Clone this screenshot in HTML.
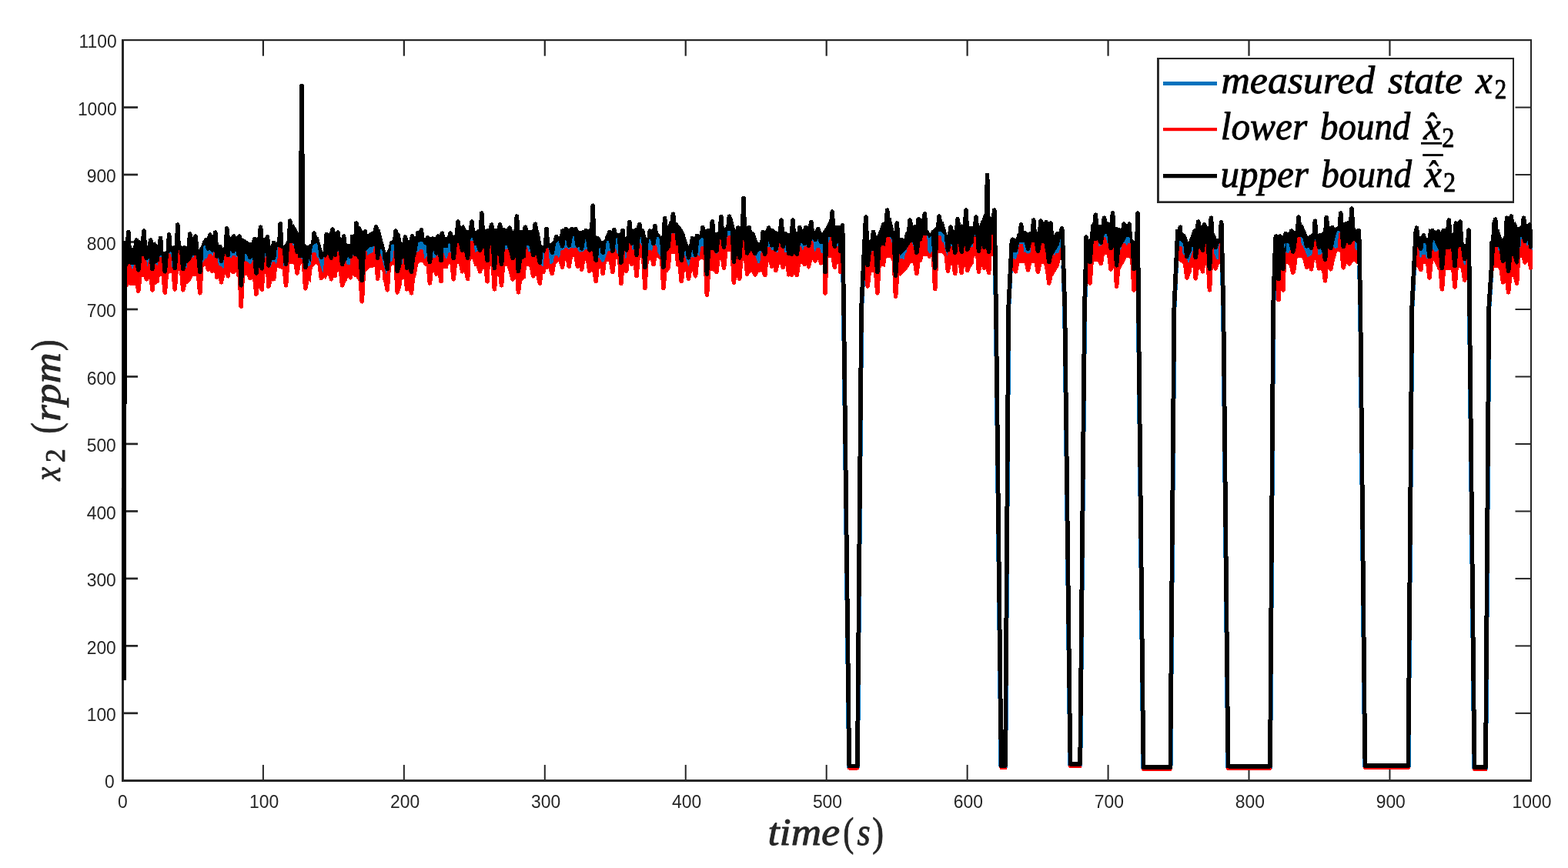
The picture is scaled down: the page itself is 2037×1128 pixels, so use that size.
<!DOCTYPE html>
<html lang="en"><head><meta charset="utf-8"><title>x2 interval observer plot</title>
<style>html,body{margin:0;padding:0;background:#fff;}body{width:2037px;height:1128px;overflow:hidden;}svg{display:block;}.tk{font-family:"Liberation Sans",sans-serif;font-size:22.9px;fill:#262626;}.lx{font-family:"Liberation Serif",serif;font-style:italic;font-size:50px;stroke-width:0.9px;stroke-linejoin:round;}.rm{font-family:"Liberation Serif",serif;font-style:normal;}</style></head><body>
<svg width="2037" height="1128" viewBox="0 0 2037 1128">
<rect x="0" y="0" width="2037" height="1128" fill="#fff"/>
<g fill="#262626">
<rect x="158" y="51" width="3" height="965"/>
<rect x="158" y="1013" width="1832" height="3"/>
<rect x="158" y="51" width="1832" height="2.2"/>
<rect x="1988" y="51" width="2" height="965"/>
<rect x="340.89" y="993.95" width="2" height="20.50"/>
<rect x="340.79" y="52.20" width="2.2" height="20.50"/>
<rect x="523.84" y="993.95" width="2" height="20.50"/>
<rect x="523.74" y="52.20" width="2.2" height="20.50"/>
<rect x="706.78" y="993.95" width="2" height="20.50"/>
<rect x="706.68" y="52.20" width="2.2" height="20.50"/>
<rect x="889.73" y="993.95" width="2" height="20.50"/>
<rect x="889.63" y="52.20" width="2.2" height="20.50"/>
<rect x="1072.68" y="993.95" width="2" height="20.50"/>
<rect x="1072.58" y="52.20" width="2.2" height="20.50"/>
<rect x="1255.62" y="993.95" width="2" height="20.50"/>
<rect x="1255.52" y="52.20" width="2.2" height="20.50"/>
<rect x="1438.57" y="993.95" width="2" height="20.50"/>
<rect x="1438.47" y="52.20" width="2.2" height="20.50"/>
<rect x="1621.51" y="993.95" width="2" height="20.50"/>
<rect x="1621.41" y="52.20" width="2.2" height="20.50"/>
<rect x="1804.46" y="993.95" width="2" height="20.50"/>
<rect x="1804.36" y="52.20" width="2.2" height="20.50"/>
<rect x="159.55" y="925.47" width="19.50" height="2.7"/>
<rect x="1968.50" y="925.87" width="20.50" height="2"/>
<rect x="159.55" y="838.00" width="19.50" height="2.7"/>
<rect x="1968.50" y="838.40" width="20.50" height="2"/>
<rect x="159.55" y="750.52" width="19.50" height="2.7"/>
<rect x="1968.50" y="750.92" width="20.50" height="2"/>
<rect x="159.55" y="663.04" width="19.50" height="2.7"/>
<rect x="1968.50" y="663.44" width="20.50" height="2"/>
<rect x="159.55" y="575.56" width="19.50" height="2.7"/>
<rect x="1968.50" y="575.96" width="20.50" height="2"/>
<rect x="159.55" y="488.09" width="19.50" height="2.7"/>
<rect x="1968.50" y="488.49" width="20.50" height="2"/>
<rect x="159.55" y="400.61" width="19.50" height="2.7"/>
<rect x="1968.50" y="401.01" width="20.50" height="2"/>
<rect x="159.55" y="313.13" width="19.50" height="2.7"/>
<rect x="1968.50" y="313.53" width="20.50" height="2"/>
<rect x="159.55" y="225.65" width="19.50" height="2.7"/>
<rect x="1968.50" y="226.05" width="20.50" height="2"/>
<rect x="159.55" y="138.18" width="19.50" height="2.7"/>
<rect x="1968.50" y="138.58" width="20.50" height="2"/>
</g>
<defs><clipPath id="axclip"><rect x="158.1" y="51.2" width="1833.9" height="964.7"/></clipPath></defs>
<g clip-path="url(#axclip)" stroke-linejoin="round" stroke-linecap="butt" fill="none" shape-rendering="crispEdges">
<path fill="#0072BD" stroke="none" fill-rule="evenodd" d="M1945.5 302.6 1945.1 302.5 1944.8 298.0 1944.5 296.6 1943.7 295.6 1942.6 295.2 1941.4 295.6 1940.6 296.6 1940.3 298.0 1939.8 310.9 1935.2 317.5 1935.2 361.4 1937.9 361.4 1941.4 345.4 1946.4 345.4 1954.0 361.4 1957.1 361.4 1957.3 365.6 1957.6 367.0 1958.4 368.1 1959.5 368.4 1960.6 368.1 1961.4 367.0 1961.7 365.6 1962.4 357.4 1967.7 357.4 1968.3 354.9 1968.4 354.9 1969.4 356.1 1970.5 356.5 1971.6 356.1 1972.4 355.1 1972.7 353.7 1973.7 333.1 1974.0 332.1 1979.0 332.1 1983.3 337.4 1987.0 337.4 1991.1 346.7 1991.2 346.8 1991.2 306.2 1991.1 306.2 1983.8 294.2 1981.6 295.0 1980.5 293.7 1979.4 293.3 1978.3 293.7 1977.5 294.7 1977.1 296.5 1971.8 298.2 1968.5 290.9 1965.7 294.5 1965.5 294.5 1965.1 292.6 1964.3 291.6 1963.2 291.2 1962.1 291.6 1961.2 292.6 1960.9 294.0 1960.8 297.0 1959.9 297.0 1959.4 294.7 1958.6 293.7 1957.5 293.3 1956.3 293.7 1955.5 294.7 1955.2 296.1 1954.7 308.9 1951.3 313.4 1951.2 313.4 1947.2 300.2ZM1837.2 323.2 1837.5 323.2 1837.5 356.1 1838.7 344.1 1841.6 344.1 1847.4 340.1 1851.5 340.1 1854.1 339.2 1854.8 346.6 1855.1 348.0 1855.9 349.0 1857.0 349.4 1858.2 349.0 1859.0 348.0 1859.3 346.6 1860.0 337.1 1862.8 336.1 1868.1 348.1 1870.3 348.1 1871.2 361.6 1871.5 363.0 1872.3 364.1 1873.4 364.4 1874.5 364.1 1875.3 363.0 1875.6 361.6 1876.5 348.1 1882.5 348.1 1887.0 346.9 1887.8 358.6 1888.1 360.0 1888.9 361.0 1890.0 361.4 1891.1 361.0 1892.0 360.0 1892.3 358.6 1893.1 345.4 1897.2 345.4 1900.3 349.2 1900.7 351.1 1901.5 352.1 1902.6 352.5 1902.9 352.4 1906.0 356.1 1908.1 356.1 1908.1 332.5 1910.6 332.5 1910.2 312.1 1909.9 310.7 1909.1 309.7 1908.0 309.3 1906.9 309.7 1906.0 310.7 1905.7 312.1 1905.3 319.5 1902.0 319.5 1899.7 311.4 1899.4 301.0 1899.1 299.6 1898.2 298.6 1897.1 298.2 1896.2 298.6 1894.0 290.9 1887.4 306.2 1884.9 304.4 1884.6 299.1 1884.3 297.7 1883.4 296.6 1882.3 296.3 1881.2 296.6 1880.4 297.7 1880.1 299.1 1879.9 300.9 1878.1 299.6 1873.4 300.2 1871.8 304.2 1866.1 302.9 1856.4 300.2 1854.5 312.2 1844.8 310.2 1842.8 310.2 1842.7 309.0 1842.4 307.6 1841.5 306.6 1840.4 306.2 1839.3 306.6 1838.5 307.6 1838.2 309.0 1838.1 310.2 1837.5 310.2 1837.5 317.0 1837.2 320.2ZM1655.3 320.1 1654.5 320.4 1654.5 323.4 1657.0 323.4 1657.0 366.7 1658.4 368.2 1658.7 375.5 1659.0 376.9 1659.8 377.9 1660.9 378.3 1662.1 377.9 1662.9 376.9 1663.2 375.5 1663.2 373.9 1663.5 373.8 1664.3 374.7 1665.6 364.9 1667.0 365.4 1668.1 365.0 1668.9 364.0 1669.2 362.6 1669.9 340.1 1673.1 340.1 1682.9 352.1 1685.7 332.1 1690.7 332.1 1700.2 345.4 1702.7 338.1 1703.6 338.4 1704.7 338.0 1705.5 337.0 1706.0 334.1 1711.1 333.6 1711.5 336.0 1712.3 337.1 1713.0 337.3 1717.5 352.1 1719.1 350.3 1719.2 350.4 1719.5 352.0 1720.4 353.0 1721.5 353.4 1722.6 353.0 1723.4 352.0 1723.7 350.6 1724.0 345.4 1727.3 345.4 1733.4 337.4 1736.9 324.4 1739.0 324.1 1741.9 324.1 1742.2 325.0 1742.9 333.6 1743.2 335.0 1744.0 336.0 1745.1 336.4 1746.0 336.1 1747.4 340.1 1751.5 340.1 1755.9 337.4 1759.8 337.4 1760.2 337.4 1762.0 340.1 1765.5 340.1 1765.5 315.7 1768.0 315.7 1768.0 312.7 1767.6 312.4 1767.3 311.0 1766.5 309.9 1765.5 309.6 1765.5 300.9 1760.7 300.9 1759.8 290.2 1758.6 290.2 1758.3 284.0 1758.0 282.6 1757.2 281.6 1756.0 281.2 1754.9 281.6 1754.1 282.6 1753.8 284.0 1753.4 290.2 1750.7 290.2 1745.4 292.2 1744.1 293.1 1743.9 290.0 1743.6 288.6 1742.8 287.6 1741.7 287.2 1740.6 287.6 1739.7 288.6 1739.4 290.0 1739.1 296.2 1734.8 298.9 1727.5 296.9 1725.7 298.2 1725.4 295.3 1725.1 293.9 1724.3 292.9 1723.2 292.5 1722.1 292.9 1721.3 293.9 1721.0 295.3 1720.6 302.4 1715.9 306.2 1711.1 306.7 1710.7 300.1 1710.4 298.7 1709.6 297.7 1708.4 297.3 1707.3 297.7 1706.5 298.7 1706.2 300.1 1705.8 307.2 1702.9 307.5 1698.9 310.2 1692.2 294.2 1689.4 296.7 1689.3 296.7 1689.1 295.1 1688.8 293.7 1688.0 292.6 1686.9 292.3 1685.8 292.6 1685.0 293.7 1684.7 295.1 1684.3 301.1 1681.6 303.5 1674.3 304.2 1667.0 308.9 1660.3 307.5 1657.0 307.5 1657.0 317.5 1656.5 317.6 1655.6 318.7ZM1536.6 306.2 1526.6 300.9 1526.6 334.8 1529.3 334.8 1535.3 338.8 1539.4 343.8 1539.7 346.6 1540.0 348.0 1540.8 349.0 1541.9 349.4 1543.5 348.9 1547.2 353.4 1548.4 345.4 1551.0 345.4 1551.0 347.6 1551.3 349.0 1552.2 350.0 1553.3 350.4 1554.4 350.0 1555.2 349.0 1555.5 347.6 1555.8 345.4 1560.4 345.4 1562.6 341.4 1563.6 341.1 1564.4 340.0 1564.7 338.8 1567.7 338.8 1568.1 339.0 1569.2 362.6 1569.5 364.0 1570.3 365.0 1571.4 365.4 1572.6 365.0 1573.4 364.0 1573.7 362.6 1574.5 342.8 1577.7 342.8 1580.6 340.7 1582.6 339.8 1586.6 339.8 1586.6 325.9 1589.1 325.9 1588.7 302.0 1588.4 300.6 1587.6 299.6 1586.5 299.2 1585.4 299.6 1584.5 300.6 1584.2 302.0 1583.7 312.9 1580.5 312.9 1577.8 306.2 1576.1 304.3 1575.7 296.1 1575.4 294.7 1574.6 293.7 1573.4 293.3 1572.3 293.7 1571.5 294.7 1571.2 296.1 1571.0 298.5 1570.8 298.6 1569.2 296.9 1560.5 295.6 1549.9 300.9 1544.1 317.5 1543.7 317.5 1539.9 306.9ZM1413.0 349.4 1413.5 349.5 1413.8 353.7 1414.1 355.1 1414.9 356.1 1416.0 356.5 1417.1 356.1 1417.9 355.1 1418.2 353.7 1419.1 338.5 1419.7 337.4 1424.7 337.4 1429.9 331.1 1430.2 331.2 1431.3 330.8 1432.1 329.8 1432.5 328.1 1437.3 328.1 1440.7 334.8 1441.1 337.0 1441.9 338.0 1442.4 338.2 1444.8 342.8 1447.9 342.8 1448.3 357.7 1448.6 359.1 1449.5 360.1 1450.6 360.5 1451.7 360.1 1452.5 359.1 1452.8 357.7 1453.7 345.7 1455.5 346.8 1460.8 337.4 1463.6 332.1 1466.9 332.1 1468.6 335.1 1469.8 338.5 1470.8 362.6 1471.1 364.0 1471.9 365.0 1473.0 365.4 1474.1 365.0 1475.0 364.0 1475.3 362.6 1476.2 345.1 1478.2 345.1 1478.2 331.2 1480.7 331.2 1480.3 290.0 1480.0 288.6 1479.2 287.6 1478.1 287.2 1477.0 287.6 1476.1 288.6 1475.8 290.0 1475.1 318.2 1472.1 318.2 1469.8 311.5 1469.4 304.1 1469.1 302.7 1468.3 301.7 1467.2 301.3 1466.3 301.6 1463.7 294.2 1456.1 300.9 1454.1 298.9 1450.2 298.2 1448.1 296.8 1447.7 290.0 1447.4 288.6 1446.6 287.6 1445.5 287.2 1444.4 287.6 1443.6 288.6 1443.3 290.0 1443.0 293.3 1439.5 290.9 1428.2 295.6 1425.7 295.3 1425.5 292.1 1425.2 290.7 1424.4 289.7 1423.3 289.3 1422.2 289.7 1421.3 290.7 1421.0 292.1 1420.8 294.6 1417.6 294.2 1415.3 314.8 1410.8 314.8 1410.8 318.2 1409.8 318.6 1409.0 319.6 1408.7 321.0 1408.3 324.8 1408.3 327.8 1410.8 327.8 1410.8 350.7 1412.2 350.7ZM1313.8 348.1 1324.0 338.8 1334.1 338.8 1334.4 339.1 1335.5 339.4 1336.6 339.1 1336.9 338.8 1344.9 338.8 1346.1 339.0 1346.5 340.7 1347.3 341.7 1348.4 342.1 1349.5 341.7 1350.3 340.7 1350.5 339.8 1352.6 340.1 1356.2 340.1 1357.7 348.1 1360.2 350.1 1360.5 353.7 1360.8 355.1 1361.6 356.1 1362.8 356.5 1363.9 356.1 1364.7 355.1 1365.0 353.9 1367.7 356.1 1375.7 342.7 1378.3 332.1 1379.7 332.1 1380.3 345.4 1380.3 317.2 1382.6 317.2 1382.6 314.2 1381.3 308.6 1380.3 307.3 1380.3 304.2 1371.7 304.2 1369.4 308.1 1368.9 308.0 1367.7 293.0 1361.7 290.9 1355.7 291.6 1351.9 297.4 1350.9 297.7 1350.0 298.7 1349.7 300.6 1347.7 303.5 1345.2 303.7 1344.9 299.1 1344.6 297.7 1343.8 296.6 1342.7 296.3 1341.6 296.6 1340.7 297.7 1340.4 299.1 1340.1 304.0 1337.8 304.2 1335.1 305.5 1331.8 302.9 1328.6 303.9 1327.6 302.6 1326.5 302.2 1325.3 302.6 1324.5 303.6 1324.2 305.4 1321.8 306.2 1319.8 312.9 1313.8 312.9 1313.8 322.4 1313.6 322.7 1313.3 324.1 1312.3 324.4 1312.3 327.4 1313.8 327.4ZM1123.0 358.7 1124.7 356.8 1124.8 356.9 1125.3 359.1 1126.1 360.1 1127.2 360.5 1128.4 360.1 1129.2 359.1 1129.5 357.7 1130.0 351.2 1130.4 350.7 1135.4 350.7 1136.5 349.9 1136.6 349.9 1137.6 366.6 1137.9 368.0 1138.7 369.0 1139.8 369.4 1141.0 369.0 1141.8 368.0 1142.1 366.6 1143.1 344.7 1145.6 342.8 1149.6 344.1 1151.7 332.1 1156.7 332.1 1160.2 338.6 1161.3 371.2 1161.6 372.6 1162.4 373.7 1163.5 374.0 1164.6 373.7 1165.5 372.6 1165.8 371.2 1166.8 352.2 1167.4 352.1 1169.5 356.1 1177.5 348.1 1183.6 338.8 1188.3 338.8 1188.6 341.3 1188.9 342.7 1189.7 343.7 1190.8 344.1 1191.9 343.7 1192.7 342.7 1193.0 341.3 1193.4 338.1 1197.4 337.4 1199.6 330.1 1204.6 330.1 1206.8 333.5 1207.0 333.3 1208.1 333.1 1209.0 331.9 1211.2 330.3 1212.5 361.3 1212.8 362.7 1213.6 363.7 1214.7 364.1 1215.8 363.7 1216.7 362.7 1217.0 361.3 1218.2 325.5 1223.2 325.5 1228.7 332.5 1229.1 338.0 1229.4 339.4 1230.2 340.4 1231.4 340.8 1232.5 340.4 1233.3 339.4 1233.4 338.8 1238.1 338.8 1238.4 341.3 1238.7 342.7 1239.5 343.7 1240.6 344.1 1241.7 343.7 1242.6 342.7 1242.9 341.3 1242.9 338.8 1245.8 338.8 1246.8 338.5 1247.3 341.8 1248.2 342.8 1249.3 343.2 1250.4 342.8 1251.2 341.8 1251.5 340.4 1251.7 337.4 1254.7 337.4 1255.0 338.7 1255.8 339.7 1256.9 340.1 1257.5 339.9 1261.3 344.1 1264.6 340.1 1265.8 329.5 1268.7 329.5 1269.3 339.3 1269.6 340.7 1270.4 341.7 1271.5 342.1 1272.6 341.7 1273.4 340.7 1273.8 338.8 1277.2 338.8 1279.8 345.4 1282.1 345.4 1283.1 342.7 1284.6 343.2 1285.7 342.8 1286.5 341.8 1286.8 340.4 1287.3 330.1 1287.5 329.5 1289.6 329.5 1290.5 332.1 1292.0 332.1 1292.0 297.9 1294.5 297.9 1294.5 294.9 1294.1 286.0 1293.8 284.6 1293.0 283.6 1291.9 283.2 1290.8 283.6 1289.7 284.9 1287.2 284.9 1279.2 278.9 1272.6 296.2 1270.3 296.4 1270.2 295.1 1269.9 293.7 1269.1 292.6 1267.9 292.3 1266.8 292.6 1266.0 293.7 1265.7 295.1 1265.6 296.6 1260.6 296.9 1257.6 296.2 1257.1 286.0 1256.8 284.6 1256.0 283.6 1254.9 283.2 1253.8 283.6 1253.0 284.6 1252.7 286.0 1252.2 295.0 1249.0 294.2 1246.1 296.6 1245.1 295.3 1244.0 294.9 1242.9 295.3 1242.1 296.3 1241.8 297.7 1241.6 300.2 1235.2 305.3 1234.9 305.2 1233.8 305.5 1233.0 306.6 1232.9 307.1 1230.7 308.9 1225.4 290.2 1222.1 292.9 1221.2 291.7 1220.0 291.3 1218.9 291.7 1218.1 292.7 1217.8 294.1 1217.6 296.6 1210.7 302.2 1208.1 306.2 1204.1 299.1 1203.7 290.8 1203.4 289.4 1202.5 288.4 1201.4 288.0 1200.3 288.4 1198.9 290.1 1196.8 286.3 1189.5 294.9 1186.1 295.6 1184.0 297.6 1183.3 296.6 1182.1 296.3 1181.0 296.6 1180.2 297.7 1179.9 299.1 1179.7 301.5 1176.2 304.9 1174.3 313.5 1173.9 313.6 1172.8 311.5 1169.5 311.5 1167.9 310.5 1167.5 303.0 1167.2 301.6 1166.4 300.6 1165.3 300.2 1164.2 300.6 1163.3 301.6 1163.0 303.0 1163.0 306.3 1162.1 306.4 1157.5 286.3 1155.0 287.7 1154.9 286.0 1154.6 284.6 1153.7 283.6 1152.6 283.2 1151.5 283.6 1150.7 284.6 1150.4 286.0 1150.1 290.4 1145.6 292.9 1140.2 308.2 1134.8 311.6 1134.5 311.5 1133.4 311.9 1132.5 313.0 1129.6 314.8 1127.8 314.8 1127.2 295.1 1126.9 293.7 1126.1 292.6 1125.0 292.3 1123.8 292.6 1123.0 293.7 1122.7 295.1 1121.8 324.8 1121.8 327.8 1123.0 327.8ZM165.3 370.7 167.3 367.4 170.0 368.3 176.0 368.0 178.0 365.5 178.6 366.3 179.7 366.7 180.8 366.3 181.7 365.3 182.0 363.9 182.3 360.2 184.6 357.4 188.6 357.4 191.9 360.1 195.5 360.1 195.6 362.6 195.9 364.0 196.8 365.0 197.9 365.4 199.4 364.9 201.2 367.4 206.6 364.0 207.6 356.1 210.3 356.1 211.1 355.4 212.0 365.9 212.3 367.3 213.1 368.3 214.3 368.7 215.4 368.3 216.2 367.3 216.5 365.9 217.3 354.5 224.1 349.8 224.9 361.6 225.2 363.0 226.0 364.1 227.2 364.4 228.3 364.1 229.1 363.0 229.4 361.6 230.2 349.2 234.7 349.3 235.6 362.6 235.9 364.0 236.7 365.0 237.8 365.4 238.9 365.0 239.7 364.0 240.2 361.5 240.7 361.5 243.1 366.7 247.1 362.7 250.6 356.1 255.6 356.1 256.2 355.1 256.7 355.2 257.5 366.6 257.8 368.0 258.6 369.0 259.8 369.4 260.9 369.0 261.7 368.0 262.0 366.6 263.0 344.8 264.2 342.8 268.6 342.8 273.1 349.4 279.8 349.4 282.9 357.4 285.8 357.4 291.2 354.7 294.8 354.7 297.5 350.7 300.4 350.7 304.5 348.1 308.1 348.1 309.8 349.3 311.0 383.9 311.3 385.3 312.1 386.3 313.2 386.7 314.3 386.3 315.2 385.3 315.5 383.9 316.6 354.7 322.1 354.7 328.2 360.1 330.1 361.5 330.6 367.9 330.9 369.3 331.8 370.3 332.9 370.7 334.0 370.3 334.8 369.3 335.1 367.9 335.3 365.4 338.7 365.4 338.9 364.3 340.3 364.7 341.4 364.3 342.2 363.3 342.5 361.9 343.4 342.8 345.3 342.8 346.1 343.5 346.7 357.9 347.0 359.3 347.8 360.3 348.9 360.7 350.0 360.3 350.8 359.3 351.4 356.6 352.0 356.5 354.2 362.7 358.2 361.4 360.0 345.5 362.2 345.4 363.3 345.9 368.6 348.4 369.2 356.6 369.5 358.0 370.4 359.0 371.5 359.4 372.6 359.0 373.4 358.0 373.7 356.6 374.6 341.1 377.0 340.1 383.8 340.1 384.2 342.0 385.0 343.1 386.1 343.4 387.2 343.1 388.0 342.0 388.4 340.1 391.3 340.1 393.3 341.2 393.6 341.7 394.5 360.6 394.8 362.0 395.6 363.0 396.7 363.4 397.9 363.0 398.7 362.0 399.5 357.2 400.1 357.1 403.4 365.4 405.3 348.2 406.2 343.8 409.3 340.9 411.2 340.1 415.1 346.8 415.4 348.7 416.2 349.7 416.7 349.9 417.3 351.1 419.4 358.4 421.3 357.7 422.7 360.0 428.7 350.1 429.4 351.0 430.5 351.4 431.3 351.0 431.9 350.0 432.1 348.6 432.1 345.4 433.3 345.4 434.3 346.8 434.8 347.0 436.8 350.1 440.5 350.1 442.0 352.3 442.4 356.6 442.7 358.0 443.5 359.0 444.6 359.4 445.8 359.0 446.2 358.5 449.9 364.0 451.9 357.4 456.8 353.4 460.4 353.4 465.2 361.4 466.7 359.7 467.0 359.8 468.1 377.6 468.4 379.0 469.2 380.0 470.3 380.4 471.4 380.0 472.2 379.0 472.5 377.6 473.6 352.0 475.9 349.4 480.5 345.4 487.2 344.1 488.2 344.8 488.3 348.3 488.6 349.7 489.4 350.8 490.5 351.1 491.7 350.8 492.5 349.7 492.8 348.1 496.3 348.1 497.8 364.0 499.3 360.7 500.1 359.5 500.5 359.6 501.2 364.0 502.0 365.0 503.2 365.4 504.3 365.0 505.1 364.0 505.4 362.6 506.3 345.6 506.5 344.9 507.3 343.2 509.8 341.7 511.3 340.1 512.8 340.1 513.9 365.6 514.2 367.0 515.1 368.1 516.2 368.4 517.3 368.1 518.1 367.0 518.8 364.0 519.5 364.0 521.1 370.7 522.7 360.1 526.3 360.1 526.4 361.6 526.7 363.0 527.7 364.3 529.8 373.4 532.4 373.4 534.2 369.5 535.6 369.0 536.4 368.0 536.7 366.6 537.0 363.5 540.4 356.1 543.3 339.9 545.2 338.4 549.3 338.4 550.4 341.4 555.4 344.7 556.1 353.7 556.4 355.1 557.2 356.1 558.3 356.5 559.5 356.1 560.3 355.1 560.6 353.7 561.1 348.1 565.2 348.1 569.0 354.7 570.8 352.6 571.8 354.0 573.0 354.3 574.1 354.0 574.9 352.9 575.2 351.5 575.3 347.3 576.3 346.1 581.6 346.1 582.8 340.1 586.3 340.1 587.0 348.6 587.3 350.0 588.1 351.0 589.2 351.4 590.3 351.0 591.1 350.0 591.4 348.6 592.1 340.1 598.1 340.1 602.9 350.7 604.4 346.7 605.0 346.7 605.6 349.7 606.4 350.8 607.5 351.1 608.7 350.8 609.5 349.7 609.8 348.3 610.3 333.5 613.7 333.5 616.2 342.8 625.7 345.4 630.3 345.4 630.8 351.5 631.1 352.9 631.9 354.0 633.1 354.3 634.2 354.0 635.0 352.9 635.3 351.5 635.7 340.1 638.9 340.1 639.1 340.6 640.2 361.6 640.5 363.0 641.3 364.1 642.4 364.4 643.5 364.1 644.3 363.0 644.6 361.6 645.3 350.7 648.7 350.7 649.2 356.6 649.5 358.0 650.3 359.0 651.5 359.4 652.6 359.0 653.4 358.0 653.7 356.6 654.5 342.8 658.6 342.8 661.4 352.1 665.4 351.2 666.0 351.4 667.2 351.0 667.4 350.7 670.6 350.7 671.2 365.6 671.5 367.0 672.3 368.1 673.4 368.4 674.5 368.1 675.4 367.0 675.7 365.6 676.4 358.7 676.7 358.6 678.7 361.4 682.7 358.7 683.9 342.8 686.8 342.8 694.2 356.1 697.8 356.1 699.2 355.4 700.2 356.6 701.3 357.0 702.4 356.6 703.2 355.6 703.6 353.5 705.3 352.7 708.0 353.4 709.3 347.3 716.6 345.1 718.0 343.9 718.4 343.7 719.0 343.0 725.3 337.5 727.1 337.4 729.8 335.5 730.6 335.7 731.7 335.3 732.5 334.3 732.7 333.5 737.4 333.5 738.1 334.4 739.3 334.8 740.4 334.4 741.2 333.4 741.6 331.0 742.1 330.8 747.1 330.8 752.5 345.4 756.0 338.7 756.8 338.4 757.6 337.4 758.1 334.8 763.0 334.8 763.3 335.7 763.5 338.0 763.8 339.4 764.7 340.4 767.3 349.4 771.6 349.4 772.1 352.7 773.0 353.7 774.1 354.1 775.2 353.7 776.0 352.7 776.3 351.3 777.0 342.8 781.3 342.8 783.8 346.4 784.8 343.1 785.1 342.7 785.4 341.0 787.1 338.1 787.9 337.4 793.3 337.4 793.8 340.7 794.6 341.7 795.8 342.1 796.9 341.7 797.7 340.7 798.0 339.3 798.5 333.9 799.2 333.5 803.5 333.5 804.5 354.2 804.8 355.6 805.7 356.6 806.8 357.0 807.9 356.6 808.7 355.6 809.0 354.2 809.4 348.1 812.5 348.1 814.2 340.6 814.9 340.4 815.7 339.4 816.0 338.0 816.2 334.4 817.3 333.5 819.5 333.5 823.0 342.8 824.1 341.1 824.6 341.2 824.8 344.4 825.1 345.8 825.9 346.8 827.0 347.2 828.2 346.8 829.0 345.8 829.3 344.4 830.1 332.1 834.5 332.1 835.7 360.3 836.0 361.7 836.8 362.7 837.9 363.1 839.0 362.7 839.9 361.7 840.2 360.3 841.1 340.1 843.3 335.7 845.0 334.8 847.2 334.8 850.8 332.1 855.2 332.1 858.6 337.3 859.6 360.3 859.9 361.7 860.7 362.7 861.9 363.1 863.0 362.7 863.8 361.7 864.1 360.3 865.0 347.7 865.4 347.5 867.6 350.7 870.9 345.4 872.5 326.8 875.3 326.8 876.5 326.8 878.2 342.8 882.5 344.5 883.0 351.3 883.3 352.7 884.2 353.7 885.3 354.1 886.4 353.7 887.2 352.7 887.5 351.3 888.0 346.8 892.1 346.8 892.5 349.3 893.4 350.4 894.5 350.7 895.6 350.4 896.4 349.3 896.7 347.9 897.3 348.1 901.7 348.1 902.3 346.7 903.5 347.2 904.6 346.8 905.5 345.8 905.8 344.4 906.3 337.6 907.3 336.1 908.8 335.8 911.3 333.6 912.6 333.5 915.0 336.9 916.2 369.2 916.5 370.6 917.3 371.7 918.4 372.0 919.5 371.7 920.3 370.6 920.6 369.2 921.7 347.4 922.2 347.3 923.6 349.4 928.6 349.4 930.9 342.0 931.9 341.7 932.7 340.7 933.0 339.3 933.5 334.0 933.7 333.5 938.2 333.5 938.5 335.7 939.4 336.7 940.5 337.1 941.6 336.7 942.4 335.7 942.7 334.3 943.3 326.4 944.9 324.1 950.0 324.1 951.1 353.3 951.4 354.7 952.2 355.7 953.3 356.1 954.5 355.7 955.3 354.7 955.6 353.3 955.8 350.7 959.2 350.7 959.3 350.3 960.7 350.7 961.9 350.4 962.7 349.3 963.0 347.9 963.9 333.5 967.8 333.5 968.4 342.0 968.7 343.4 969.6 344.4 970.7 344.8 971.7 344.4 973.5 350.7 988.2 350.7 991.5 344.4 992.6 345.7 993.7 346.1 994.8 345.7 995.6 344.7 995.9 343.3 996.6 334.8 1000.8 334.8 1004.9 345.4 1011.0 340.1 1015.4 340.1 1017.0 336.2 1018.3 335.7 1019.1 334.7 1019.4 333.3 1019.5 332.1 1021.7 332.1 1022.2 342.6 1022.5 344.0 1023.3 345.1 1024.7 345.5 1026.5 356.0 1028.0 345.8 1028.6 346.1 1029.7 345.7 1030.5 344.7 1030.8 343.3 1030.9 333.5 1032.6 333.5 1033.0 343.3 1033.3 344.7 1034.1 345.7 1035.2 346.1 1036.3 345.7 1037.2 344.7 1037.5 343.3 1037.8 340.1 1049.3 340.1 1052.9 334.8 1057.3 334.8 1060.6 332.1 1064.3 332.1 1069.4 342.7 1069.8 342.7 1069.8 366.6 1070.1 368.0 1070.9 369.0 1072.1 369.4 1073.2 369.0 1074.0 368.0 1074.3 366.6 1075.3 332.1 1078.8 332.1 1081.8 331.1 1082.4 334.7 1083.2 335.7 1084.4 336.1 1085.5 335.7 1086.3 334.7 1086.6 333.3 1086.8 329.5 1089.3 329.5 1089.5 339.3 1089.8 340.7 1090.6 341.7 1091.8 342.1 1092.9 341.7 1093.7 340.7 1094.0 339.3 1095.6 318.2 1095.6 315.2 1094.5 315.2 1094.5 309.3 1097.0 309.3 1097.0 306.3 1096.6 306.0 1096.3 304.6 1095.5 303.5 1094.5 303.2 1094.5 296.2 1089.7 296.2 1085.0 295.6 1083.8 294.9 1083.4 288.1 1083.1 286.7 1082.3 285.7 1081.2 285.3 1080.1 285.7 1079.2 286.7 1078.9 288.1 1078.7 292.1 1076.4 290.9 1072.4 298.9 1068.4 304.9 1058.9 302.9 1056.1 301.6 1055.7 299.9 1054.9 298.9 1053.8 298.5 1052.7 298.9 1051.9 299.8 1049.8 298.9 1042.5 300.9 1035.8 304.2 1032.4 304.8 1032.1 299.1 1031.8 297.7 1031.0 296.6 1029.9 296.3 1028.7 296.6 1027.9 297.7 1027.6 299.1 1027.2 305.6 1023.9 306.2 1021.2 303.5 1017.5 303.5 1017.2 299.1 1016.9 297.7 1016.1 296.6 1015.0 296.3 1013.8 296.6 1013.0 297.7 1012.7 299.1 1012.4 303.5 1008.6 303.5 1004.6 300.2 994.6 302.2 989.7 312.5 989.3 312.9 989.2 313.5 987.3 317.5 984.6 317.5 980.0 304.9 969.0 300.2 968.3 270.5 968.0 269.1 967.1 268.0 966.0 267.7 964.9 268.0 964.1 269.1 963.8 270.5 963.1 297.6 961.4 296.9 955.4 302.8 951.4 286.3 947.4 291.3 946.3 291.7 945.4 292.7 945.1 294.3 942.1 298.2 939.4 300.0 939.0 294.4 938.7 293.0 937.9 292.0 936.7 291.6 935.6 292.0 934.8 293.0 934.5 294.4 934.1 303.4 930.8 305.5 927.9 304.0 927.7 300.4 927.4 299.0 926.6 298.0 925.4 297.6 924.3 298.0 923.5 299.0 923.1 301.5 919.5 299.6 912.5 305.7 911.7 305.9 910.8 307.1 908.8 308.9 902.2 310.2 894.3 322.0 894.1 322.0 888.9 305.5 884.2 297.6 878.9 291.6 876.7 291.1 876.4 289.7 875.6 288.6 874.5 288.3 873.4 288.6 872.3 290.0 870.2 289.6 867.3 296.9 866.4 298.3 866.0 298.2 865.8 296.4 865.5 295.0 864.7 294.0 863.6 293.6 862.5 294.0 861.6 295.0 861.3 296.4 860.9 307.1 858.9 310.2 855.0 304.9 847.4 300.9 840.2 314.9 839.8 314.9 837.0 300.9 834.3 299.6 825.7 299.3 823.0 300.2 820.3 303.1 820.1 303.0 819.9 301.4 819.6 300.0 818.8 299.0 817.7 298.6 816.6 299.0 815.8 300.0 815.5 301.4 815.1 308.6 812.4 311.5 804.4 305.5 787.1 308.2 783.9 319.2 783.6 319.2 778.5 310.5 775.1 310.2 773.2 308.1 772.5 280.2 772.2 278.8 771.3 277.7 770.2 277.4 769.1 277.7 768.3 278.8 768.0 280.2 767.3 301.4 767.0 301.5 765.8 300.2 753.2 303.3 738.6 299.6 727.3 308.9 716.6 318.2 712.7 319.4 712.2 310.4 711.9 309.0 711.1 307.9 710.0 307.6 708.9 307.9 708.0 309.0 707.7 310.4 707.2 321.1 703.7 322.1 700.0 302.2 696.9 302.2 696.5 301.7 695.3 301.3 694.2 301.7 693.8 302.2 676.1 302.2 674.1 302.4 673.6 294.0 673.3 292.6 672.5 291.6 671.4 291.2 670.3 291.6 669.5 292.6 669.2 294.0 668.7 303.0 666.5 303.3 654.1 298.9 642.8 300.2 633.5 300.2 630.8 300.9 628.5 300.9 628.0 290.0 627.7 288.6 626.9 287.6 625.8 287.2 624.7 287.6 623.8 288.6 623.5 290.0 623.0 300.9 620.9 300.9 618.2 303.5 615.3 303.1 615.1 301.0 614.8 299.6 614.0 298.6 612.9 298.2 611.8 298.6 610.9 299.6 610.6 301.0 610.5 302.3 605.6 301.5 602.2 294.2 597.2 300.1 596.0 298.6 594.9 298.2 593.8 298.6 593.0 299.6 592.7 301.0 592.4 305.6 589.6 308.9 580.3 311.5 571.3 308.2 565.0 310.9 558.3 310.9 553.0 311.5 549.5 311.5 549.3 310.6 548.4 309.5 547.3 309.2 546.2 309.5 545.4 310.6 545.2 311.5 539.3 311.5 530.8 314.8 522.0 319.5 519.4 306.9 517.8 306.2 514.1 310.2 512.9 310.6 512.1 311.6 511.9 312.6 509.8 314.8 506.5 316.8 502.8 333.5 502.1 333.5 497.2 315.5 493.2 300.2 482.5 304.2 477.2 307.5 471.2 303.3 467.9 296.9 464.6 300.8 462.9 300.2 461.8 300.6 461.0 301.6 460.7 303.0 460.6 305.4 459.9 306.2 454.6 319.5 451.3 320.2 448.5 318.6 447.8 317.6 446.6 317.3 446.3 317.4 443.0 315.5 436.0 306.9 426.7 306.2 424.2 314.8 422.8 315.2 422.0 316.3 421.7 317.7 421.4 324.3 419.6 330.5 419.1 330.5 413.4 310.2 409.6 313.8 408.1 313.3 406.9 313.7 406.1 314.7 405.8 316.1 405.7 317.4 401.4 321.5 398.1 322.4 381.4 294.2 379.3 299.3 377.9 297.6 376.8 297.2 375.7 297.6 374.9 298.6 374.6 300.0 374.1 312.0 369.9 322.2 367.0 320.8 366.4 304.0 366.1 302.6 365.3 301.5 364.2 301.2 363.0 301.5 362.2 302.6 361.9 304.0 361.3 318.0 359.5 317.1 351.5 326.8 350.0 323.5 349.8 321.0 349.5 319.6 348.7 318.6 347.4 318.1 344.2 311.5 341.0 311.5 340.7 308.1 340.4 306.7 339.6 305.7 338.5 305.3 337.4 305.7 336.6 306.7 336.3 308.1 336.0 311.5 333.6 311.5 324.9 318.8 321.6 316.2 316.9 313.5 307.0 309.5 299.0 310.9 297.7 312.9 297.2 312.8 297.0 310.0 296.7 308.6 295.9 307.5 294.7 307.2 293.6 307.5 292.8 308.6 292.5 310.0 292.0 321.8 289.7 325.5 287.7 321.5 284.4 320.8 282.2 318.4 282.0 315.0 281.7 313.6 280.8 312.6 279.7 312.2 278.6 312.6 277.8 313.6 276.0 311.5 266.4 312.2 263.1 316.8 259.6 328.6 259.3 328.6 256.6 323.2 256.4 320.1 256.1 318.7 255.3 317.6 254.2 317.3 253.8 317.4 251.1 311.8 248.4 315.3 247.8 314.6 246.7 314.2 245.6 314.6 244.8 315.6 244.5 317.0 244.2 320.9 242.5 323.2 235.8 322.4 233.6 322.4 233.0 305.0 232.7 303.6 231.9 302.6 230.8 302.2 229.6 302.6 228.8 303.6 228.5 305.0 227.9 322.2 225.2 322.2 222.2 324.2 221.8 317.9 221.5 316.5 220.7 315.5 219.6 315.1 218.5 315.5 217.6 316.5 217.3 317.9 216.9 327.9 213.2 330.4 211.1 328.1 210.8 322.3 210.5 320.9 209.7 319.9 208.5 319.5 207.4 319.9 206.6 320.9 206.3 322.5 206.1 322.6 201.2 317.1 191.5 323.5 189.7 321.9 189.2 313.0 188.9 311.6 188.1 310.6 187.0 310.2 185.9 310.6 185.1 311.6 184.8 313.0 184.5 317.1 184.3 317.1 181.3 314.4 172.0 325.1 169.4 325.1 168.9 314.3 168.6 312.9 167.8 311.9 166.7 311.5 165.5 311.9 164.7 312.9 164.4 314.3 163.5 335.1 163.5 338.1 165.3 338.1Z"/>
<polyline stroke="#0072BD" stroke-width="5.6" points="1095.0,345.0 1095.8,400.0 1102.9,996.4 1114.2,996.4 1119.4,400.0 1122.1,345.0"/>
<polyline stroke="#0072BD" stroke-width="5.6" points="1292.7,345.0 1293.6,400.0 1300.3,996.0 1306.4,996.0 1310.5,400.0 1313.2,345.0"/>
<polyline stroke="#0072BD" stroke-width="5.6" points="1381.2,345.0 1383.0,400.0 1390.1,993.8 1403.5,993.8 1409.3,400.0 1410.9,345.0"/>
<polyline stroke="#0072BD" stroke-width="5.6" points="1478.3,345.0 1478.7,400.0 1485.1,997.9 1520.7,997.9 1525.7,400.0 1528.2,345.0"/>
<polyline stroke="#0072BD" stroke-width="5.6" points="1587.7,345.0 1589.0,400.0 1595.1,996.7 1650.3,996.7 1654.4,400.0 1656.2,345.0"/>
<polyline stroke="#0072BD" stroke-width="5.6" points="1766.0,345.0 1767.0,400.0 1773.0,995.9 1829.8,995.9 1834.6,400.0 1837.4,345.0"/>
<polyline stroke="#0072BD" stroke-width="5.6" points="1908.3,345.0 1908.8,400.0 1915.1,998.2 1930.3,998.2 1934.6,400.0 1938.1,345.0"/>
<path fill="#FF0000" stroke="none" fill-rule="evenodd" d="M1946.9 325.0 1946.5 324.9 1945.4 312.3 1945.0 310.9 1944.0 309.9 1942.6 309.5 1941.2 309.9 1940.1 310.9 1939.8 312.3 1938.6 337.0 1935.2 341.8 1935.2 364.4 1937.9 364.4 1941.4 348.4 1946.4 348.4 1947.7 351.2 1949.7 366.9 1950.1 368.3 1951.1 369.3 1952.5 369.7 1953.9 369.3 1955.8 367.5 1956.0 367.6 1956.7 379.9 1957.0 381.3 1958.1 382.4 1959.5 382.7 1960.9 382.4 1961.9 381.3 1962.3 379.9 1964.3 360.4 1965.7 360.4 1968.1 369.4 1969.1 370.4 1970.5 370.8 1971.9 370.4 1972.9 369.4 1973.3 368.0 1975.3 335.1 1976.5 335.1 1978.7 342.4 1979.7 343.4 1981.1 343.8 1982.5 343.4 1983.6 342.4 1983.9 341.0 1985.1 340.4 1985.7 348.0 1986.0 349.4 1987.1 350.4 1988.5 350.8 1989.8 350.4 1990.5 349.7 1991.2 349.8 1991.2 330.5 1991.1 330.5 1989.9 319.3 1989.5 317.9 1988.5 316.9 1987.1 316.5 1985.7 316.9 1984.7 317.9 1984.4 319.0 1984.1 319.1 1983.8 318.5 1983.4 318.7 1982.2 310.4 1981.8 309.0 1980.8 308.0 1979.4 307.6 1978.0 308.0 1977.0 309.0 1976.6 310.4 1975.4 321.3 1971.8 322.5 1968.5 315.2 1967.4 316.6 1967.1 316.5 1966.0 308.3 1965.6 306.9 1964.6 305.9 1963.2 305.5 1961.8 305.9 1960.8 306.9 1960.1 309.3 1958.9 308.0 1957.5 307.6 1956.1 308.0 1955.0 309.0 1954.7 310.4 1953.5 334.9 1951.3 337.7 1951.2 337.7 1947.2 324.5ZM1837.5 359.1 1838.7 347.1 1840.9 347.1 1842.9 350.7 1843.3 352.1 1844.3 353.1 1845.7 353.5 1847.1 353.1 1848.2 352.1 1848.5 350.7 1849.5 343.1 1851.5 343.1 1852.2 342.8 1854.2 360.9 1854.6 362.3 1855.6 363.3 1857.0 363.7 1858.4 363.3 1859.5 362.3 1859.8 360.9 1861.8 339.4 1862.8 339.1 1868.1 351.1 1868.6 351.1 1870.6 375.9 1871.0 377.3 1872.0 378.4 1873.4 378.7 1874.8 378.4 1875.8 377.3 1876.2 375.9 1878.2 351.1 1882.5 351.1 1885.2 350.3 1887.2 372.9 1887.6 374.3 1888.6 375.3 1890.0 375.7 1891.4 375.3 1892.5 374.3 1892.8 372.9 1894.7 348.4 1897.2 348.4 1897.9 349.2 1899.9 364.0 1900.2 365.4 1901.3 366.4 1902.7 366.8 1904.1 366.4 1905.1 365.4 1905.5 364.0 1906.0 359.1 1908.1 359.1 1908.1 346.8 1910.6 346.8 1910.6 326.4 1910.4 325.0 1909.4 324.0 1908.0 323.6 1906.6 324.0 1905.6 325.0 1905.2 326.4 1904.0 343.8 1902.0 343.8 1901.1 340.5 1899.9 315.3 1899.5 313.9 1898.5 312.9 1897.1 312.5 1895.7 312.9 1894.7 313.9 1894.5 314.6 1894.3 314.6 1893.7 316.0 1892.7 314.9 1891.4 314.5 1890.0 314.9 1888.9 315.9 1888.6 317.3 1887.4 330.5 1886.4 330.4 1885.1 313.4 1884.7 312.0 1883.7 310.9 1882.3 310.6 1880.9 310.9 1879.9 312.0 1879.5 313.4 1878.3 323.8 1873.4 324.5 1872.0 328.1 1871.5 328.1 1871.2 326.8 1870.1 325.8 1868.7 325.4 1867.4 325.8 1866.1 327.2 1863.4 326.5 1863.2 325.5 1862.2 324.5 1860.8 324.1 1859.4 324.5 1858.7 325.2 1856.4 324.5 1854.5 336.5 1853.5 336.3 1852.3 333.3 1851.9 331.9 1850.9 330.9 1849.5 330.5 1848.1 330.9 1847.0 331.9 1846.7 333.3 1845.5 334.6 1844.4 334.4 1843.2 323.3 1842.8 321.9 1841.8 320.9 1840.4 320.5 1839.0 320.9 1838.0 321.9 1837.6 323.3 1836.4 334.5 1836.4 337.5 1837.5 337.5ZM1654.5 334.7 1654.5 337.7 1657.0 337.7 1657.0 369.7 1658.2 389.8 1658.5 391.2 1659.6 392.2 1661.0 392.6 1662.4 392.2 1663.4 391.2 1663.8 389.8 1664.3 378.3 1664.5 378.2 1665.6 379.3 1666.9 379.7 1668.3 379.3 1669.4 378.3 1669.7 376.9 1670.9 343.1 1673.1 343.1 1674.8 345.1 1677.2 355.7 1678.2 356.7 1679.6 357.1 1681.0 356.7 1682.0 355.7 1682.3 354.5 1682.4 354.5 1682.9 355.1 1685.7 335.1 1690.7 335.1 1692.7 337.9 1695.1 348.6 1696.1 349.6 1697.5 350.0 1698.9 349.6 1700.2 348.3 1701.1 351.3 1702.1 352.3 1703.5 352.7 1704.9 352.3 1705.9 351.3 1706.3 349.9 1708.0 337.9 1708.9 337.9 1710.7 348.9 1711.1 350.3 1712.1 351.4 1713.5 351.7 1714.9 351.4 1716.0 350.2 1717.5 355.1 1718.7 364.9 1719.1 366.3 1720.1 367.3 1721.5 367.7 1722.9 367.3 1723.9 366.3 1724.3 364.9 1725.3 350.5 1725.5 350.4 1727.4 352.3 1728.8 352.7 1730.2 352.3 1731.2 351.3 1731.6 349.9 1733.4 340.5 1736.9 327.4 1739.0 327.1 1740.4 327.1 1742.4 347.9 1742.7 349.3 1743.8 350.3 1745.2 350.7 1746.6 350.3 1747.6 349.3 1749.4 343.1 1750.4 343.1 1750.7 344.4 1751.7 345.4 1753.1 345.8 1754.5 345.4 1755.6 344.4 1755.9 343.0 1757.9 340.4 1760.2 340.4 1762.0 343.1 1765.5 343.1 1765.5 330.0 1768.0 330.0 1768.0 326.7 1767.8 325.3 1766.8 324.2 1765.4 323.9 1764.0 324.2 1763.0 325.2 1760.7 325.2 1759.8 314.6 1758.9 298.3 1758.5 296.9 1757.5 295.9 1756.1 295.5 1754.7 295.9 1753.6 296.9 1753.3 298.3 1752.1 314.5 1750.7 314.5 1745.4 316.5 1744.5 304.3 1744.1 302.9 1743.1 301.9 1741.7 301.5 1740.3 301.9 1739.3 302.9 1738.9 304.3 1737.7 321.4 1734.8 323.2 1733.6 322.7 1733.2 321.3 1732.2 320.2 1730.8 319.9 1729.4 320.2 1728.2 321.4 1727.2 321.1 1726.0 309.6 1725.6 308.2 1724.6 307.2 1723.2 306.8 1721.8 307.2 1720.8 308.2 1720.4 309.6 1719.2 327.8 1715.9 330.5 1712.4 330.9 1711.2 314.4 1710.9 313.0 1709.8 312.0 1708.4 311.6 1707.0 312.0 1706.0 313.0 1705.6 314.4 1704.4 331.7 1702.9 331.8 1698.9 334.5 1692.2 318.5 1690.9 319.6 1689.7 309.4 1689.3 308.0 1688.3 306.9 1686.9 306.6 1685.5 306.9 1684.5 308.0 1684.1 309.4 1682.9 326.7 1681.6 327.8 1680.7 327.3 1680.3 325.9 1679.3 324.9 1677.9 324.5 1676.5 324.9 1675.4 325.9 1675.1 327.3 1674.3 328.5 1672.9 329.4 1671.7 328.2 1670.3 327.8 1668.9 328.2 1667.8 329.2 1666.9 333.2 1665.2 332.8 1664.4 331.9 1663.0 331.6 1661.6 331.9 1661.5 332.1 1660.3 331.8 1658.6 331.8 1657.6 331.6 1656.2 331.9 1655.2 333.0 1654.8 334.4ZM1669.0 349.8 1667.9 349.7 1668.7 343.1 1670.3 343.1ZM1529.3 326.6 1526.6 325.2 1526.6 337.8 1529.3 337.8 1535.3 341.8 1537.1 344.0 1539.1 360.9 1539.5 362.3 1540.5 363.3 1541.9 363.7 1543.3 363.3 1544.3 362.3 1544.7 360.9 1546.7 355.8 1547.2 356.4 1548.4 348.4 1549.9 348.4 1550.4 361.9 1550.8 363.3 1551.8 364.3 1553.2 364.7 1554.6 364.3 1555.7 363.3 1556.0 361.9 1557.7 349.6 1558.3 349.5 1559.7 352.9 1560.1 354.3 1561.1 355.4 1562.5 355.7 1563.9 355.4 1565.0 354.3 1565.3 352.9 1565.7 344.6 1566.8 344.6 1568.6 376.9 1569.0 378.3 1570.0 379.3 1571.4 379.7 1572.8 379.3 1573.9 378.3 1574.2 376.9 1575.6 349.5 1576.5 349.4 1576.7 350.3 1577.8 351.4 1579.2 351.7 1580.6 351.4 1581.6 350.3 1584.0 342.8 1586.6 342.8 1586.6 340.2 1589.1 340.2 1589.1 316.3 1588.9 314.9 1587.9 313.9 1586.5 313.5 1585.1 313.9 1584.1 314.9 1583.7 316.3 1582.5 337.2 1580.5 337.2 1577.8 330.5 1577.4 330.1 1576.2 310.4 1575.9 309.0 1574.8 308.0 1573.4 307.6 1572.0 308.0 1571.0 309.0 1570.6 310.4 1569.5 321.2 1568.5 321.1 1567.3 319.3 1567.0 317.9 1565.9 316.9 1564.5 316.5 1563.1 316.9 1562.1 317.9 1561.7 319.3 1560.5 319.9 1559.2 313.9 1558.2 312.9 1556.8 312.5 1555.4 312.9 1554.4 313.9 1554.0 315.3 1552.8 323.7 1549.9 325.2 1544.1 341.8 1543.7 341.8 1539.9 331.2 1536.6 330.5 1536.1 322.4 1535.7 321.0 1534.7 320.0 1533.3 319.6 1531.9 320.0 1530.9 321.0ZM1415.4 338.3 1414.7 338.4 1413.3 333.9 1412.3 332.9 1410.9 332.5 1409.5 332.9 1408.5 333.9 1408.3 335.3 1408.3 342.1 1410.8 342.1 1410.8 353.7 1412.2 353.7 1413.2 368.0 1413.5 369.4 1414.6 370.4 1416.0 370.8 1417.4 370.4 1418.4 369.4 1418.8 368.0 1420.8 340.4 1424.7 340.4 1425.4 339.6 1427.4 342.7 1427.8 344.1 1428.8 345.1 1430.2 345.5 1431.6 345.1 1432.6 344.1 1433.0 342.7 1434.9 331.1 1437.3 331.1 1438.3 333.0 1440.3 349.9 1440.7 351.3 1441.7 352.3 1443.1 352.7 1444.5 352.3 1445.5 351.3 1446.1 349.1 1446.9 349.2 1447.7 372.0 1448.1 373.4 1449.1 374.4 1450.5 374.8 1451.9 374.4 1453.0 373.4 1453.3 372.0 1455.3 350.0 1460.8 340.4 1463.6 335.1 1466.9 335.1 1468.2 337.4 1470.2 376.9 1470.6 378.3 1471.6 379.3 1473.0 379.7 1474.4 379.3 1475.5 378.3 1475.8 376.9 1477.8 348.1 1478.2 348.1 1478.2 345.5 1480.7 345.5 1480.7 304.3 1480.5 302.9 1479.5 301.9 1478.1 301.5 1476.7 301.9 1475.7 302.9 1475.3 304.3 1474.1 340.5 1473.8 340.7 1471.0 337.6 1470.0 318.4 1469.6 317.0 1468.6 316.0 1467.2 315.6 1465.8 316.0 1464.7 317.0 1464.3 318.7 1463.8 318.7 1463.7 318.5 1463.6 318.7 1462.9 318.4 1462.5 317.0 1461.5 316.0 1460.1 315.6 1458.7 316.0 1457.7 317.0 1457.3 318.4 1456.2 325.1 1456.1 325.1 1454.1 323.2 1450.2 322.5 1449.5 322.1 1448.3 304.3 1447.9 302.9 1446.9 301.9 1445.5 301.5 1444.1 301.9 1443.1 302.9 1442.7 304.3 1441.5 316.6 1439.5 315.2 1438.5 315.6 1436.9 309.0 1435.9 308.0 1434.5 307.6 1433.1 308.0 1432.0 309.0 1431.7 310.4 1430.5 318.9 1428.2 319.9 1427.3 319.7 1426.1 306.4 1425.7 305.0 1424.7 304.0 1423.3 303.6 1421.9 304.0 1420.9 305.0 1420.5 306.4 1419.3 318.7 1417.6 318.5ZM1313.8 351.1 1314.6 350.4 1316.6 352.9 1317.0 354.3 1318.0 355.4 1319.4 355.7 1320.8 355.4 1321.8 354.3 1322.2 352.9 1324.2 341.8 1330.7 341.8 1333.1 352.3 1334.1 353.4 1335.5 353.7 1336.9 353.4 1337.9 352.3 1340.3 341.8 1343.6 341.8 1345.6 353.6 1346.0 355.0 1347.0 356.0 1348.4 356.4 1349.8 356.0 1350.8 355.0 1351.2 353.6 1353.2 343.1 1356.2 343.1 1357.7 351.1 1358.0 351.3 1360.0 368.0 1360.3 369.4 1361.4 370.4 1362.8 370.8 1364.2 370.4 1365.2 369.4 1367.5 359.4 1375.7 345.7 1378.3 335.1 1379.7 335.1 1380.3 348.4 1380.3 331.5 1382.8 331.5 1382.8 328.5 1382.2 324.3 1381.8 322.9 1380.8 321.8 1379.4 321.5 1378.0 321.8 1377.0 322.9 1375.4 328.5 1371.7 328.5 1369.4 332.4 1368.9 332.3 1367.7 317.3 1367.3 315.9 1366.4 314.9 1365.0 314.5 1363.6 314.9 1362.9 315.6 1361.5 315.1 1361.3 314.6 1360.4 313.6 1359.0 313.2 1357.6 313.6 1356.6 314.6 1356.2 316.2 1355.9 316.2 1354.8 314.4 1354.4 313.0 1353.4 312.0 1352.0 311.6 1350.6 312.0 1349.6 313.0 1349.2 314.4 1348.0 327.5 1347.7 327.8 1346.7 327.9 1345.5 313.4 1345.1 312.0 1344.1 310.9 1342.7 310.6 1341.3 310.9 1340.3 312.0 1339.9 313.4 1338.7 328.4 1337.8 328.5 1335.1 329.8 1331.8 327.2 1330.5 327.6 1329.3 319.3 1328.9 317.9 1327.9 316.9 1326.5 316.5 1325.1 316.9 1324.0 317.9 1323.7 319.3 1322.5 330.3 1321.8 330.5 1319.8 337.2 1318.2 337.2 1316.9 335.9 1315.5 335.6 1314.1 335.9 1313.1 337.0 1312.7 338.4 1311.5 338.7 1311.5 341.7 1313.8 341.7ZM1123.0 342.1 1123.0 361.7 1124.4 372.0 1124.8 373.4 1125.8 374.4 1127.2 374.8 1128.6 374.4 1129.6 373.4 1130.0 372.0 1132.0 353.7 1135.0 353.7 1137.0 380.9 1137.4 382.3 1138.4 383.3 1139.8 383.7 1141.2 383.3 1142.3 382.3 1142.6 380.9 1144.6 346.5 1145.6 345.8 1149.6 347.1 1151.7 335.1 1156.7 335.1 1158.7 338.9 1160.7 385.5 1161.1 386.9 1162.1 388.0 1163.5 388.3 1164.9 388.0 1165.9 386.9 1166.3 385.5 1168.3 357.8 1168.8 357.7 1169.5 359.1 1177.5 351.1 1183.6 341.8 1186.1 341.8 1188.0 355.6 1188.4 357.0 1189.4 358.0 1190.8 358.4 1192.2 358.0 1193.2 357.0 1193.6 355.6 1195.6 340.7 1197.4 340.4 1199.6 333.1 1204.6 333.1 1206.8 336.5 1207.0 336.3 1208.1 336.1 1209.5 334.1 1209.9 334.3 1211.9 375.6 1212.3 377.0 1213.3 378.0 1214.7 378.4 1216.1 378.0 1217.2 377.0 1217.5 375.6 1219.5 328.5 1223.2 328.5 1226.6 332.8 1228.6 352.3 1228.9 353.7 1230.0 354.7 1231.4 355.1 1232.8 354.7 1233.8 353.7 1234.2 352.3 1235.5 344.5 1236.4 344.5 1237.9 355.6 1238.2 357.0 1239.3 358.0 1240.7 358.4 1242.1 358.0 1243.1 357.0 1243.5 355.6 1243.9 344.2 1244.9 344.1 1246.5 354.7 1246.9 356.1 1247.9 357.1 1249.3 357.5 1250.7 357.1 1251.7 356.1 1252.1 354.7 1252.7 347.0 1253.8 347.0 1254.1 351.6 1254.5 353.0 1255.5 354.0 1256.9 354.4 1258.3 354.0 1259.3 353.0 1259.7 351.6 1261.3 347.1 1264.6 343.1 1265.8 332.5 1267.3 332.5 1268.7 353.6 1269.1 355.0 1270.1 356.0 1271.5 356.4 1272.9 356.0 1273.9 355.0 1274.3 353.6 1274.9 346.8 1275.8 346.8 1276.0 348.6 1276.4 350.0 1277.4 351.0 1278.8 351.4 1279.9 351.0 1280.8 349.7 1281.1 349.8 1281.8 354.7 1282.1 356.1 1283.2 357.1 1284.6 357.5 1286.0 357.1 1287.0 356.1 1287.4 354.7 1288.5 332.5 1289.6 332.5 1290.5 335.1 1292.0 335.1 1292.0 312.2 1294.5 312.2 1294.5 300.3 1294.3 298.9 1293.3 297.9 1291.9 297.5 1290.5 297.9 1289.4 298.9 1289.1 300.3 1287.8 309.7 1279.2 303.2 1275.3 313.5 1274.2 314.6 1272.7 320.2 1271.9 320.2 1270.7 309.4 1270.4 308.0 1269.3 306.9 1267.9 306.6 1266.5 306.9 1265.5 308.0 1265.1 309.4 1263.9 321.0 1260.6 321.2 1258.9 320.8 1257.7 300.3 1257.3 298.9 1256.3 297.9 1254.9 297.5 1253.5 297.9 1252.5 298.9 1252.1 300.3 1250.9 319.0 1249.0 318.5 1248.0 319.4 1246.8 312.0 1246.4 310.6 1245.4 309.6 1244.0 309.2 1242.6 309.6 1241.6 310.6 1241.2 312.0 1240.0 325.7 1238.9 326.6 1237.4 320.9 1236.3 319.8 1234.9 319.5 1233.5 319.8 1232.5 320.9 1232.1 322.3 1231.1 331.8 1230.3 331.9 1225.4 314.5 1224.0 315.6 1222.8 308.4 1222.5 307.0 1221.4 306.0 1220.0 305.6 1218.6 306.0 1217.6 307.0 1217.2 308.4 1216.0 322.2 1210.7 326.5 1208.1 330.5 1205.4 325.8 1204.2 305.1 1203.9 303.7 1202.8 302.7 1201.4 302.3 1200.0 302.7 1199.0 303.7 1198.6 305.1 1197.5 311.1 1197.1 311.2 1196.8 310.6 1195.9 311.5 1195.8 311.5 1195.6 310.6 1194.6 309.6 1193.2 309.2 1191.8 309.6 1190.8 310.6 1190.4 312.0 1189.5 319.2 1186.1 319.9 1184.9 313.4 1184.6 312.0 1183.5 310.9 1182.1 310.6 1180.7 310.9 1179.7 312.0 1179.3 313.4 1178.1 327.3 1176.2 329.2 1174.3 337.8 1173.9 337.9 1172.8 335.8 1169.3 335.8 1168.1 317.3 1167.7 315.9 1166.7 314.9 1165.3 314.5 1163.9 314.9 1162.8 315.9 1162.5 317.3 1162.3 327.3 1161.4 327.4 1157.5 310.6 1156.6 311.1 1155.4 300.3 1155.0 298.9 1154.0 297.9 1152.6 297.5 1151.2 297.9 1150.2 298.9 1149.8 300.3 1148.6 315.5 1145.6 317.2 1140.2 332.5 1138.5 333.6 1137.0 327.2 1135.9 326.2 1134.5 325.8 1133.1 326.2 1132.1 327.2 1131.7 328.6 1130.5 338.6 1129.0 339.5 1127.8 309.4 1127.4 308.0 1126.4 306.9 1125.0 306.6 1123.6 306.9 1122.5 308.0 1122.2 309.4 1121.0 339.1 1121.0 342.1ZM165.3 373.7 167.3 370.4 170.0 371.3 176.0 371.0 176.9 378.2 177.3 379.6 178.3 380.6 179.7 381.0 181.1 380.6 182.1 379.6 182.5 378.2 184.5 360.4 186.6 360.4 187.5 362.9 187.9 364.3 188.9 365.3 190.3 365.7 191.7 365.3 192.8 364.3 193.1 362.9 193.9 363.0 195.1 376.9 195.5 378.3 196.5 379.3 197.9 379.7 199.3 379.3 200.3 378.3 200.7 376.9 201.2 370.4 206.6 367.0 207.6 359.1 209.5 359.1 211.5 380.2 211.8 381.6 212.9 382.6 214.3 383.0 215.7 382.6 216.7 381.6 217.1 380.2 219.1 356.3 222.4 354.0 224.4 375.9 224.7 377.3 225.8 378.4 227.2 378.7 228.6 378.4 229.6 377.3 230.0 375.9 231.8 352.2 233.0 352.3 235.0 376.9 235.4 378.3 236.4 379.3 237.8 379.7 239.2 379.3 240.2 378.3 242.5 369.2 242.9 369.2 243.1 369.7 247.1 365.7 250.6 359.1 255.0 359.1 257.0 380.9 257.3 382.3 258.4 383.3 259.8 383.7 261.2 383.3 262.2 382.3 262.6 380.9 264.6 345.8 266.4 345.8 268.0 351.7 269.0 352.7 270.4 353.1 271.7 352.7 272.6 351.8 273.1 352.5 273.4 353.7 274.4 354.7 275.7 355.1 277.0 354.7 278.2 353.5 278.4 353.6 278.9 360.3 279.3 361.7 280.3 362.7 281.7 363.1 283.0 362.7 284.1 361.5 284.4 361.6 284.6 366.9 285.0 368.3 286.0 369.3 287.4 369.7 288.8 369.3 289.8 368.3 292.3 357.3 292.8 357.2 293.5 358.9 293.9 360.3 294.9 361.3 296.3 361.7 297.7 361.3 298.6 360.3 299.0 358.9 299.0 353.7 300.2 353.7 300.6 355.0 301.6 356.0 303.0 356.4 304.4 356.0 305.4 355.0 305.7 353.8 306.5 353.9 306.8 357.6 307.2 359.0 308.2 360.0 308.8 360.2 310.4 398.2 310.8 399.6 311.8 400.6 313.2 401.0 314.6 400.6 315.6 399.6 316.0 398.2 318.0 357.7 320.1 357.7 322.1 361.6 322.5 363.0 323.5 364.0 324.9 364.4 326.3 364.0 328.0 362.3 328.2 362.4 330.1 382.2 330.5 383.6 331.5 384.6 332.9 385.0 334.3 384.6 335.3 383.6 335.7 382.2 336.3 375.0 337.3 375.0 337.4 376.2 337.8 377.6 338.8 378.6 340.2 379.0 341.6 378.6 342.6 377.6 343.0 376.2 344.3 355.9 345.3 355.9 346.1 372.2 346.4 373.6 347.5 374.6 348.9 375.0 350.3 374.6 351.3 373.6 353.4 365.1 354.0 365.1 354.2 365.7 358.2 364.4 360.0 348.5 362.2 348.4 363.3 348.9 366.7 350.5 368.7 370.9 369.1 372.3 370.1 373.3 371.5 373.7 372.9 373.3 373.9 372.3 374.3 370.9 376.3 343.4 377.0 343.1 381.3 343.1 383.3 354.9 383.7 356.3 384.7 357.4 386.1 357.7 387.5 357.4 388.5 356.3 388.9 354.9 390.8 342.8 391.9 343.5 393.9 374.9 394.3 376.3 395.3 377.3 396.7 377.7 398.1 377.3 399.2 376.3 399.5 374.9 401.4 364.8 401.9 364.7 403.4 368.4 405.3 351.2 406.2 346.8 409.3 343.9 411.2 343.1 412.6 345.4 414.6 361.6 414.9 363.0 416.0 364.0 417.4 364.4 418.8 364.0 419.8 363.0 420.2 361.6 421.7 361.4 422.7 363.0 425.8 358.0 425.9 358.0 427.9 362.9 428.2 364.3 429.3 365.3 430.7 365.7 431.7 365.3 432.4 364.3 432.7 362.9 432.7 360.1 433.0 360.0 434.0 361.1 435.3 361.5 436.7 361.1 437.7 360.1 438.1 358.7 438.6 353.1 439.8 353.1 441.8 370.9 442.2 372.3 443.2 373.3 444.6 373.7 446.0 373.3 447.1 372.3 447.4 370.9 449.4 366.3 449.9 367.0 451.9 360.7 452.4 360.7 452.8 362.3 453.9 363.3 455.3 363.7 456.7 363.3 457.7 362.3 458.1 360.9 458.4 357.9 459.2 357.8 459.5 359.0 460.5 360.0 461.9 360.4 462.7 360.2 465.6 364.9 467.5 391.9 467.9 393.3 468.9 394.3 470.3 394.7 471.7 394.3 472.7 393.3 473.1 391.9 475.1 353.3 475.9 352.4 480.5 348.4 487.2 347.1 487.7 362.6 488.1 364.0 489.1 365.1 490.5 365.4 491.9 365.1 492.9 364.0 493.3 362.6 494.5 351.1 496.3 351.1 497.8 367.0 498.0 366.6 498.5 366.7 500.4 376.9 500.7 378.3 501.8 379.3 503.2 379.7 504.6 379.3 505.6 378.3 506.0 376.9 508.0 345.9 509.8 344.7 511.1 343.3 511.4 343.4 513.4 379.9 513.8 381.3 514.8 382.4 516.2 382.7 517.6 382.4 518.6 381.3 520.7 374.3 521.0 374.3 522.7 363.1 524.7 363.1 525.9 375.9 526.3 377.3 527.3 378.4 528.7 378.7 529.9 378.4 530.9 377.2 531.2 377.2 531.6 380.9 532.0 382.3 533.0 383.3 534.4 383.7 535.8 383.3 536.8 382.3 537.2 380.9 539.2 361.6 540.4 359.1 543.3 342.9 545.2 341.4 549.3 341.4 550.4 344.4 553.6 346.5 555.6 368.0 555.9 369.4 557.0 370.4 558.4 370.8 559.8 370.4 560.8 369.4 561.2 368.0 562.7 353.5 563.5 353.5 564.6 357.7 565.6 358.7 567.0 359.1 568.0 358.7 568.7 357.7 569.0 357.8 570.2 365.8 570.6 367.2 571.6 368.3 573.0 368.6 574.4 368.3 575.4 367.2 575.8 365.8 576.3 349.1 581.6 349.1 582.8 343.1 584.4 343.1 586.4 362.9 586.8 364.3 587.8 365.3 589.2 365.7 590.6 365.3 591.6 364.3 592.0 362.9 594.0 343.1 595.8 343.1 598.2 354.3 599.2 355.4 600.6 355.7 601.8 355.4 602.8 354.1 603.0 354.1 605.1 364.0 606.2 365.1 607.6 365.4 609.0 365.1 610.0 364.0 610.4 362.6 611.6 336.5 613.7 336.5 616.2 345.8 618.7 346.5 621.1 354.3 622.1 355.4 623.5 355.7 624.9 355.4 625.9 354.3 626.3 352.9 627.8 349.3 628.4 349.4 630.3 365.8 630.7 367.2 631.7 368.3 633.1 368.6 634.5 368.3 635.5 367.2 635.9 365.8 636.7 346.0 637.8 346.0 639.6 375.9 640.0 377.3 641.0 378.4 642.4 378.7 643.8 378.4 644.8 377.3 645.2 375.9 646.4 359.3 647.4 359.2 648.7 370.9 649.0 372.3 650.1 373.3 651.5 373.7 652.9 373.3 653.9 372.3 654.3 370.9 656.1 345.8 658.6 345.8 661.4 355.1 663.7 364.3 664.7 365.3 666.1 365.7 667.5 365.3 668.5 364.3 669.0 362.6 669.8 362.7 670.6 379.9 671.0 381.3 672.0 382.4 673.4 382.7 674.8 382.4 675.8 381.3 676.2 379.9 678.1 364.8 682.7 361.7 683.9 345.8 686.8 345.8 687.9 347.7 689.9 358.9 690.3 360.3 691.3 361.3 692.7 361.7 694.1 361.3 695.1 360.3 695.4 359.1 696.5 359.1 698.9 369.9 699.9 370.9 701.3 371.3 702.7 370.9 703.8 369.9 704.1 368.5 705.3 355.7 708.0 356.4 709.3 350.3 712.5 349.4 714.9 357.0 715.9 358.0 717.3 358.4 718.7 358.0 719.7 357.0 720.1 355.6 722.1 343.3 725.7 340.1 728.2 348.6 729.2 349.6 730.6 350.0 732.0 349.6 733.0 348.6 733.4 347.2 734.5 339.3 735.3 339.3 736.4 346.3 736.8 347.7 737.8 348.7 739.2 349.1 740.6 348.7 741.7 347.7 742.0 346.3 744.0 333.8 745.5 333.8 747.5 346.3 747.9 347.7 748.9 348.7 750.3 349.1 751.4 348.7 752.2 347.7 752.5 347.8 752.8 350.3 753.2 351.7 754.2 352.7 755.6 353.1 757.0 352.7 758.0 351.7 758.4 350.3 760.3 338.5 761.1 338.5 763.0 352.3 763.4 353.7 764.4 354.7 765.8 355.1 767.2 354.7 768.3 353.7 768.6 352.5 769.3 352.5 771.3 365.6 771.7 367.0 772.7 368.0 774.1 368.4 775.5 368.0 776.5 367.0 776.9 365.6 778.6 348.9 779.5 348.9 780.3 355.6 780.7 357.0 781.7 358.0 783.1 358.4 784.5 358.0 785.6 357.0 785.9 355.6 787.9 340.4 791.0 340.4 793.0 353.6 793.3 355.0 794.4 356.0 795.8 356.4 797.2 356.0 798.2 355.0 798.6 353.6 800.6 336.5 802.0 336.5 804.0 368.5 804.4 369.9 805.4 370.9 806.8 371.3 808.2 370.9 809.2 369.9 809.6 368.5 810.9 353.4 811.1 353.3 812.4 354.7 813.7 355.1 815.1 354.7 816.1 353.7 816.5 352.3 817.2 342.9 818.0 342.9 818.6 345.0 819.6 346.1 821.0 346.4 822.0 346.1 822.6 345.2 823.0 345.3 824.2 358.7 824.6 360.1 825.6 361.1 827.0 361.5 828.4 361.1 829.4 360.1 829.8 358.7 831.8 335.1 833.1 335.1 835.1 374.6 835.5 376.0 836.5 377.0 837.9 377.4 839.3 377.0 840.4 376.0 840.7 374.6 842.7 339.9 843.3 338.7 845.0 337.8 846.5 345.0 847.6 346.1 849.0 346.4 850.4 346.1 851.4 345.0 851.8 343.6 853.0 335.1 855.2 335.1 857.1 338.0 859.1 374.6 859.4 376.0 860.5 377.0 861.9 377.4 863.3 377.0 864.3 376.0 864.7 374.6 866.6 353.0 867.0 352.9 867.6 353.7 870.9 348.4 872.5 329.8 876.5 329.8 878.2 345.8 880.5 346.7 882.5 365.6 882.9 367.0 883.9 368.0 885.3 368.4 886.7 368.0 887.7 367.0 888.1 365.6 889.7 353.0 890.6 353.0 891.7 362.2 892.0 363.6 893.1 364.7 894.5 365.0 895.9 364.7 896.9 363.6 897.3 362.2 899.0 352.7 899.8 352.8 900.7 358.7 901.1 360.1 902.1 361.1 903.5 361.5 904.9 361.1 905.9 360.1 906.3 358.7 908.3 338.9 908.8 338.8 911.3 336.6 912.6 336.5 913.6 337.8 915.6 383.5 916.0 384.9 917.0 386.0 918.4 386.3 919.8 386.0 920.8 384.9 921.2 383.5 923.2 352.4 926.1 352.4 928.0 353.6 928.3 355.0 929.4 356.0 930.8 356.4 932.2 356.0 933.2 355.0 933.6 353.6 935.4 338.0 936.3 338.0 937.7 348.6 938.0 350.0 939.1 351.0 940.5 351.4 941.9 351.0 942.9 350.0 943.3 348.6 945.3 327.1 948.6 327.1 950.6 367.6 951.0 369.0 952.0 370.0 953.4 370.4 954.8 370.0 955.8 369.0 956.2 367.6 956.8 360.7 957.8 360.7 957.9 362.2 958.3 363.6 959.3 364.7 960.7 365.0 962.1 364.7 963.1 363.6 963.5 362.2 965.3 339.3 966.3 339.2 967.9 356.3 968.2 357.7 969.3 358.7 970.7 359.1 972.1 358.7 973.1 357.7 973.5 356.3 975.5 353.7 976.1 353.7 978.1 356.9 978.5 358.3 979.5 359.4 980.9 359.7 982.3 359.4 983.3 358.3 983.7 356.9 985.7 353.7 988.2 353.7 988.7 352.7 989.0 352.7 990.9 357.6 991.3 359.0 992.3 360.0 993.7 360.4 995.1 360.0 996.1 359.0 996.5 357.6 998.1 341.1 999.1 341.1 999.8 346.3 1000.2 347.7 1001.2 348.7 1002.6 349.1 1003.7 348.7 1004.5 347.8 1004.8 347.9 1005.1 351.6 1005.5 353.0 1006.5 354.0 1007.9 354.4 1009.3 354.0 1010.3 353.0 1012.6 343.3 1013.3 343.3 1014.8 349.0 1015.8 350.0 1017.2 350.4 1018.6 350.0 1019.6 349.0 1020.0 347.6 1020.1 346.4 1021.2 346.4 1021.7 356.9 1022.1 358.3 1023.1 359.4 1024.5 359.7 1025.5 359.4 1026.2 358.5 1026.4 358.5 1026.6 359.6 1027.3 359.6 1027.5 360.0 1028.5 360.4 1029.9 360.0 1030.9 359.0 1031.5 356.8 1032.1 356.8 1032.7 359.0 1033.8 360.0 1035.2 360.4 1036.6 360.0 1037.6 359.0 1038.0 357.6 1040.0 343.0 1042.3 343.6 1042.7 345.0 1043.7 346.1 1045.1 346.4 1046.5 346.1 1047.5 345.0 1047.8 345.1 1047.8 346.7 1048.2 348.1 1049.1 349.1 1050.5 349.5 1051.9 349.1 1052.9 348.1 1055.1 337.9 1056.3 339.0 1056.7 340.4 1057.7 341.4 1059.1 341.8 1060.5 341.4 1061.5 340.4 1061.9 339.0 1062.1 337.8 1062.9 337.8 1063.6 341.9 1064.0 343.3 1065.0 344.3 1066.4 344.7 1067.8 344.3 1068.4 343.7 1069.1 345.1 1069.2 380.9 1069.6 382.3 1070.6 383.3 1072.0 383.7 1073.4 383.3 1074.4 382.3 1074.8 380.9 1076.4 335.1 1078.8 335.1 1079.6 334.9 1081.6 347.6 1082.0 349.0 1083.0 350.0 1084.4 350.4 1085.8 350.0 1086.8 349.0 1087.2 347.6 1087.6 342.9 1088.6 342.9 1088.9 353.6 1089.3 355.0 1090.3 356.0 1091.7 356.4 1093.1 356.0 1094.1 355.0 1094.5 353.6 1096.5 332.5 1096.5 329.5 1094.5 329.5 1094.5 323.6 1097.0 323.6 1097.0 320.3 1096.8 318.9 1095.8 317.8 1094.4 317.5 1093.0 317.8 1091.9 318.9 1091.6 320.3 1090.5 320.5 1089.7 320.5 1085.0 319.9 1084.0 302.4 1083.6 301.0 1082.6 300.0 1081.2 299.6 1079.8 300.0 1078.8 301.0 1078.4 302.4 1077.2 315.6 1076.4 315.2 1072.4 323.2 1068.4 329.2 1066.8 328.8 1065.3 323.3 1064.2 322.2 1062.8 321.9 1061.4 322.2 1060.4 323.3 1060.0 324.7 1058.8 327.2 1057.8 326.7 1056.6 315.6 1056.2 314.2 1055.2 313.2 1053.8 312.8 1052.4 313.2 1051.4 314.2 1051.0 315.6 1050.0 321.8 1049.9 321.9 1048.3 320.2 1046.9 319.9 1045.5 320.2 1044.5 321.3 1044.1 322.7 1042.8 325.2 1042.5 325.2 1041.3 321.3 1040.3 320.2 1038.9 319.9 1037.5 320.2 1036.5 321.3 1036.1 322.7 1035.8 328.5 1033.9 328.8 1032.7 313.4 1032.3 312.0 1031.3 310.9 1029.9 310.6 1028.5 310.9 1027.4 312.0 1027.1 313.4 1025.9 330.2 1023.9 330.5 1021.2 327.8 1019.0 327.8 1017.8 313.4 1017.4 312.0 1016.4 310.9 1015.0 310.6 1013.6 310.9 1012.5 312.0 1012.2 313.4 1011.0 327.8 1008.6 327.8 1004.6 324.5 1002.6 324.9 1001.4 323.3 1001.0 321.9 1000.0 320.9 998.6 320.5 997.2 320.9 996.2 321.9 995.8 323.3 994.6 326.5 994.1 327.6 992.7 326.2 991.3 325.8 989.9 326.2 988.9 327.2 988.5 328.6 987.3 341.8 984.6 341.8 980.0 329.2 976.9 327.9 975.4 321.3 974.3 320.2 972.9 319.9 971.5 320.2 970.2 321.6 969.9 321.5 968.8 284.8 968.4 283.4 967.4 282.3 966.0 282.0 964.6 282.3 963.6 283.4 963.2 284.8 962.0 321.5 961.4 321.2 960.8 321.7 960.0 320.9 958.7 320.5 957.3 320.9 956.3 321.9 955.9 323.3 955.7 325.1 954.9 325.1 951.4 310.6 950.2 308.4 949.8 307.0 948.8 306.0 947.4 305.6 946.0 306.0 945.0 307.0 944.6 308.4 943.4 320.8 942.1 322.5 940.7 323.4 939.5 308.7 939.2 307.3 938.1 306.3 936.7 305.9 935.3 306.3 934.3 307.3 933.9 308.7 932.7 328.6 930.8 329.8 929.4 329.1 928.2 314.7 927.9 313.3 926.8 312.3 925.4 311.9 924.0 312.3 923.0 313.3 922.6 314.7 921.4 324.9 919.5 323.9 916.8 326.2 915.2 321.3 914.2 320.2 912.8 319.9 911.4 320.2 910.4 321.3 910.0 322.7 908.9 332.9 908.7 332.9 906.9 331.1 905.5 330.8 904.1 331.1 903.1 332.2 902.7 333.6 901.7 335.1 900.8 334.2 899.5 333.8 898.1 334.2 897.1 335.2 896.7 336.6 895.5 344.5 894.3 346.3 894.1 346.3 888.9 329.8 884.2 321.9 878.9 315.9 878.5 315.8 877.3 305.4 876.9 304.0 875.9 302.9 874.5 302.6 873.1 302.9 872.1 304.0 871.7 305.4 870.5 313.9 870.2 313.9 867.8 319.9 867.2 319.8 866.4 310.7 866.0 309.3 865.0 308.3 863.6 307.9 862.2 308.3 861.2 309.3 860.8 310.7 859.6 333.5 858.9 334.5 855.0 329.2 854.7 329.0 853.5 320.7 853.1 319.3 852.1 318.2 850.7 317.9 849.3 318.2 848.3 319.3 847.9 320.7 847.4 325.2 846.9 326.1 845.7 324.9 844.3 324.5 842.9 324.9 841.9 325.9 841.5 327.3 840.6 335.9 839.0 335.0 837.0 325.2 834.3 323.9 833.5 318.7 833.2 317.3 832.1 316.2 830.7 315.9 829.3 316.2 828.3 317.3 826.7 323.6 825.7 323.6 823.0 324.5 821.9 325.7 821.7 325.7 820.5 315.7 820.1 314.3 819.1 313.3 817.7 312.9 816.3 313.3 815.3 314.3 814.9 315.7 813.7 334.4 812.6 335.6 812.4 335.5 811.9 326.7 811.5 325.3 810.5 324.2 809.1 323.9 807.7 324.2 806.6 325.3 805.1 330.3 804.4 329.8 801.8 330.2 800.2 324.2 799.2 323.2 797.8 322.8 796.4 323.2 795.3 324.2 794.6 327.5 793.2 326.2 791.8 325.8 790.4 326.2 789.3 327.2 787.8 332.4 787.1 332.5 785.2 339.1 782.1 341.0 778.5 334.8 775.2 334.5 774.2 333.5 773.0 294.5 772.7 293.1 771.6 292.0 770.2 291.7 768.8 292.0 767.8 293.1 767.4 294.5 766.2 324.4 763.5 325.1 762.6 324.2 761.2 323.9 759.8 324.2 758.8 325.3 758.5 326.3 753.2 327.6 751.9 327.2 750.7 324.7 750.3 323.3 749.3 322.2 747.9 321.9 746.5 322.2 745.4 323.4 744.2 322.2 742.8 321.9 741.4 322.2 740.4 323.3 740.1 324.3 738.6 323.9 738.0 324.4 737.7 323.3 736.6 322.2 735.2 321.9 733.8 322.2 732.8 323.3 732.4 324.9 730.9 324.5 729.5 324.9 728.4 325.9 728.1 327.3 727.3 333.2 725.4 334.8 725.0 333.2 724.0 332.2 722.6 331.8 721.2 332.2 720.2 333.2 718.6 340.7 716.6 342.5 714.0 343.3 712.8 324.7 712.4 323.3 711.4 322.2 710.0 321.9 708.6 322.2 707.6 323.3 707.2 324.7 706.0 345.8 703.7 346.4 700.0 326.5 699.3 326.5 698.1 318.4 697.8 317.0 696.7 316.0 695.3 315.6 693.9 316.0 692.9 317.0 692.5 318.4 691.3 326.5 686.4 326.5 684.9 321.0 683.8 320.0 682.4 319.6 681.0 320.0 680.0 321.0 678.4 326.5 675.4 326.6 674.2 308.3 673.8 306.9 672.8 305.9 671.4 305.5 670.0 305.9 669.0 306.9 668.6 308.3 667.4 327.5 666.1 327.6 664.5 321.9 663.5 320.9 662.1 320.5 660.7 320.9 659.7 321.9 659.3 323.3 658.1 324.6 654.1 323.2 653.5 323.3 651.9 317.9 650.9 316.9 649.5 316.5 648.1 316.9 647.0 317.9 645.5 324.2 642.6 324.5 641.0 317.9 640.0 316.9 638.6 316.5 637.2 316.9 636.1 317.9 634.6 324.5 633.5 324.5 630.8 325.2 629.8 325.2 628.6 304.3 628.2 302.9 627.2 301.9 625.8 301.5 624.4 301.9 623.4 302.9 623.0 304.3 621.8 325.2 620.9 325.2 618.2 327.8 616.9 327.6 615.7 315.3 615.3 313.9 614.3 312.9 612.9 312.5 611.5 312.9 610.5 313.9 610.1 315.3 608.9 326.4 605.6 325.8 602.2 318.5 599.1 322.2 598.9 322.1 597.7 315.3 597.4 313.9 596.3 312.9 594.9 312.5 593.5 312.9 592.5 313.9 592.1 315.3 590.9 331.6 589.1 333.7 587.8 330.4 587.4 329.0 586.4 328.0 585.0 327.6 583.6 328.0 582.5 329.0 581.0 335.6 580.3 335.8 578.3 335.1 576.7 329.0 575.7 328.0 574.3 327.6 572.9 328.0 571.9 329.0 571.5 330.4 571.2 332.9 570.9 332.9 570.1 331.9 569.0 331.6 567.6 331.9 566.6 333.0 566.2 334.4 565.0 335.2 563.4 335.2 563.1 334.9 561.7 334.5 560.3 334.9 560.0 335.2 558.1 335.2 558.0 334.6 557.0 333.5 555.7 333.2 554.4 333.5 553.4 334.6 553.1 335.8 551.3 335.8 550.1 326.3 549.7 324.9 548.7 323.8 547.3 323.5 545.9 323.8 544.9 324.9 544.5 326.3 544.3 327.6 542.8 327.2 541.4 327.6 540.4 328.6 540.0 330.0 539.5 334.5 538.7 334.6 538.2 332.6 537.1 331.5 535.7 331.2 534.3 331.5 533.3 332.6 531.7 338.8 530.4 339.3 528.9 333.9 527.8 332.9 526.4 332.5 525.0 332.9 524.0 333.9 523.6 335.3 522.6 342.6 521.8 342.6 519.4 331.2 517.8 330.5 516.5 325.9 515.5 324.9 514.1 324.5 512.7 324.9 511.6 325.9 511.3 327.3 510.1 338.9 509.8 339.1 506.5 341.1 504.5 350.1 501.9 355.5 501.5 355.5 497.2 339.8 493.2 324.5 492.5 324.8 491.3 322.3 490.9 320.9 489.9 319.8 488.5 319.5 487.1 319.8 486.1 320.9 484.5 327.8 482.5 328.5 477.2 331.8 477.0 328.2 476.6 326.8 475.6 325.8 474.2 325.4 472.8 325.8 471.2 327.4 467.9 321.2 466.9 322.3 466.8 322.3 465.3 315.9 464.3 314.9 462.9 314.5 461.5 314.9 460.4 315.9 460.1 317.3 459.9 330.5 459.2 332.4 457.5 331.8 456.1 332.2 455.1 333.2 454.7 334.6 454.6 343.8 451.3 344.5 450.6 344.1 449.4 334.4 449.1 333.0 448.0 331.9 446.6 331.6 445.2 331.9 444.2 333.0 443.8 334.4 443.5 336.3 442.6 336.3 441.8 329.3 441.5 327.9 440.4 326.9 439.0 326.5 437.6 326.9 436.6 327.9 436.3 329.3 435.6 329.2 434.4 323.9 433.4 322.9 432.0 322.5 430.6 322.9 429.6 323.9 428.0 330.6 426.2 330.5 425.3 329.5 424.0 329.2 422.6 329.5 421.6 330.6 421.2 332.0 420.0 353.8 419.5 353.9 418.2 351.8 413.4 334.5 412.1 335.7 410.5 329.0 409.5 328.0 408.1 327.6 406.7 328.0 405.6 329.0 405.3 330.4 404.1 343.3 401.4 345.8 398.1 346.7 381.4 318.5 381.1 319.3 380.6 319.2 379.2 312.9 378.2 311.9 376.8 311.5 375.4 311.9 374.4 312.9 374.0 314.3 372.8 339.4 370.7 344.5 368.3 346.3 367.0 318.3 366.6 316.9 365.6 315.8 364.2 315.5 362.8 315.8 361.7 316.9 361.4 318.3 360.2 341.7 359.5 341.4 358.4 342.7 358.3 342.7 357.9 341.2 356.9 340.2 355.5 339.8 354.1 340.2 353.1 341.2 352.7 342.6 352.1 346.7 351.2 346.7 350.3 335.3 350.0 333.9 348.9 332.9 347.5 332.5 346.1 332.9 345.1 333.9 344.7 335.3 344.2 335.8 342.5 335.8 341.3 322.4 340.9 321.0 339.9 320.0 338.5 319.6 337.1 320.0 336.1 321.0 335.7 322.4 334.5 335.8 333.6 335.8 333.0 336.3 332.2 335.5 330.9 335.2 329.5 335.5 328.5 336.6 326.9 341.5 324.9 343.1 321.6 340.5 316.9 337.8 315.0 337.0 313.8 334.4 313.4 333.0 312.4 331.9 311.0 331.6 309.6 331.9 308.5 333.0 308.2 334.3 307.0 333.8 306.3 333.9 306.1 333.0 305.0 331.9 303.6 331.6 302.2 331.9 301.2 333.0 300.8 334.4 299.6 335.0 298.7 335.2 297.5 324.3 297.2 322.9 296.1 321.8 294.7 321.5 293.3 321.8 292.3 322.9 291.9 324.3 290.7 348.1 289.7 349.8 287.7 345.8 284.4 345.1 283.7 344.4 282.5 329.3 282.1 327.9 281.1 326.9 279.7 326.5 278.3 326.9 277.3 327.9 276.9 329.3 276.4 332.7 275.7 332.7 275.2 331.0 274.2 329.9 272.8 329.6 271.4 329.9 270.4 331.0 268.8 336.3 266.4 336.5 263.1 341.1 261.3 347.3 258.6 351.0 258.2 350.9 257.0 334.4 256.6 333.0 255.6 331.9 254.2 331.6 252.8 331.9 251.7 333.0 251.1 335.4 250.4 335.4 249.1 329.9 248.1 328.9 246.7 328.5 245.3 328.9 244.3 329.9 243.9 331.3 242.7 347.6 241.8 347.4 240.9 346.6 239.5 346.2 238.1 346.6 237.7 347.0 234.8 346.7 233.6 319.3 233.2 317.9 232.2 316.9 230.8 316.5 229.4 316.9 228.3 317.9 228.0 319.3 226.8 346.5 225.2 346.5 223.6 347.6 222.4 332.2 222.0 330.8 221.0 329.8 219.6 329.4 218.2 329.8 217.2 330.8 216.8 332.2 215.6 353.1 213.2 354.7 212.5 354.0 211.3 336.6 211.0 335.2 209.9 334.2 208.5 333.8 207.1 334.2 206.1 335.2 205.7 336.6 204.6 344.9 204.4 344.9 201.2 341.4 199.6 342.5 198.4 339.3 198.1 337.9 197.0 336.9 195.6 336.5 194.2 336.9 193.2 337.9 192.8 339.3 191.9 346.0 190.9 346.0 189.8 327.3 189.4 325.9 188.4 324.9 187.0 324.5 185.6 324.9 184.6 325.9 184.2 327.3 183.0 340.1 182.9 340.2 181.3 338.7 180.2 339.8 179.7 337.9 178.7 336.9 177.3 336.5 175.9 336.9 174.9 337.9 174.5 339.3 173.3 347.9 172.0 349.4 170.7 349.4 169.5 328.6 169.1 327.2 168.1 326.2 166.7 325.8 165.3 326.2 164.2 327.2 163.9 328.6 162.7 349.4 162.7 352.4 165.3 352.4Z"/>
<polyline stroke="#FF0000" stroke-width="4.8" points="1095.4,345.0 1096.2,400.0 1103.3,998.2 1113.8,998.2 1119.0,400.0 1121.7,345.0"/>
<polyline stroke="#FF0000" stroke-width="4.8" points="1293.1,345.0 1294.0,400.0 1300.7,997.8 1306.0,997.8 1310.1,400.0 1312.8,345.0"/>
<polyline stroke="#FF0000" stroke-width="4.8" points="1381.6,345.0 1383.4,400.0 1390.5,995.6 1403.1,995.6 1408.9,400.0 1410.5,345.0"/>
<polyline stroke="#FF0000" stroke-width="4.8" points="1478.7,345.0 1479.1,400.0 1485.5,999.7 1520.3,999.7 1525.3,400.0 1527.8,345.0"/>
<polyline stroke="#FF0000" stroke-width="4.8" points="1588.1,345.0 1589.4,400.0 1595.5,998.5 1649.9,998.5 1654.0,400.0 1655.8,345.0"/>
<polyline stroke="#FF0000" stroke-width="4.8" points="1766.4,345.0 1767.4,400.0 1773.4,997.7 1829.4,997.7 1834.2,400.0 1837.0,345.0"/>
<polyline stroke="#FF0000" stroke-width="4.8" points="1908.7,345.0 1909.2,400.0 1915.5,1000.0 1929.9,1000.0 1934.2,400.0 1937.7,345.0"/>
<path fill="#000" stroke="none" fill-rule="evenodd" d="M1946.9 297.7 1946.5 297.6 1945.4 285.0 1945.0 283.6 1944.0 282.6 1942.6 282.2 1941.2 282.6 1940.1 283.6 1939.8 285.0 1938.6 309.7 1935.2 314.5 1935.2 337.1 1937.9 337.1 1941.4 321.1 1946.4 321.1 1947.7 323.9 1949.7 339.6 1950.1 341.0 1951.1 342.0 1952.5 342.4 1953.9 342.0 1955.8 340.2 1956.0 340.3 1956.7 352.6 1957.0 354.0 1958.1 355.1 1959.5 355.4 1960.9 355.1 1961.9 354.0 1962.3 352.6 1964.3 333.1 1965.7 333.1 1968.1 342.1 1969.1 343.1 1970.5 343.5 1971.9 343.1 1972.9 342.1 1973.3 340.7 1975.3 307.8 1976.5 307.8 1978.7 315.1 1979.7 316.1 1981.1 316.5 1982.5 316.1 1983.6 315.1 1983.9 313.7 1985.1 313.1 1985.7 320.7 1986.0 322.1 1987.1 323.1 1988.5 323.5 1989.8 323.1 1990.5 322.4 1991.2 322.5 1991.2 303.2 1991.1 303.2 1989.9 292.0 1989.5 290.6 1988.5 289.6 1987.1 289.2 1985.7 289.6 1984.7 290.6 1984.4 291.7 1984.1 291.8 1983.8 291.2 1983.4 291.4 1982.2 283.1 1981.8 281.7 1980.8 280.7 1979.4 280.3 1978.0 280.7 1977.0 281.7 1976.6 283.1 1975.4 294.0 1971.8 295.2 1968.5 287.9 1967.4 289.3 1967.1 289.2 1966.0 281.0 1965.6 279.6 1964.6 278.6 1963.2 278.2 1961.8 278.6 1960.8 279.6 1960.1 282.0 1958.9 280.7 1957.5 280.3 1956.1 280.7 1955.0 281.7 1954.7 283.1 1953.5 307.6 1951.3 310.4 1951.2 310.4 1947.2 297.2ZM1837.5 331.8 1838.7 319.8 1840.9 319.8 1842.9 323.4 1843.3 324.8 1844.3 325.8 1845.7 326.2 1847.1 325.8 1848.2 324.8 1848.5 323.4 1849.5 315.8 1851.5 315.8 1852.2 315.5 1854.2 333.6 1854.6 335.0 1855.6 336.0 1857.0 336.4 1858.4 336.0 1859.5 335.0 1859.8 333.6 1861.8 312.1 1862.8 311.8 1868.1 323.8 1868.6 323.8 1870.6 348.6 1871.0 350.0 1872.0 351.1 1873.4 351.4 1874.8 351.1 1875.8 350.0 1876.2 348.6 1878.2 323.8 1882.5 323.8 1885.2 323.0 1887.2 345.6 1887.6 347.0 1888.6 348.0 1890.0 348.4 1891.4 348.0 1892.5 347.0 1892.8 345.6 1894.7 321.1 1897.2 321.1 1897.9 321.9 1899.9 336.7 1900.2 338.1 1901.3 339.1 1902.7 339.5 1904.1 339.1 1905.1 338.1 1905.5 336.7 1906.0 331.8 1908.1 331.8 1908.1 319.5 1910.6 319.5 1910.6 299.1 1910.4 297.7 1909.4 296.7 1908.0 296.3 1906.6 296.7 1905.6 297.7 1905.2 299.1 1904.0 316.5 1902.0 316.5 1901.1 313.2 1899.9 288.0 1899.5 286.6 1898.5 285.6 1897.1 285.2 1895.7 285.6 1894.7 286.6 1894.5 287.3 1894.3 287.3 1893.7 288.7 1892.7 287.6 1891.4 287.2 1890.0 287.6 1888.9 288.6 1888.6 290.0 1887.4 303.2 1886.4 303.1 1885.1 286.1 1884.7 284.7 1883.7 283.6 1882.3 283.3 1880.9 283.6 1879.9 284.7 1879.5 286.1 1878.3 296.5 1873.4 297.2 1872.0 300.8 1871.5 300.8 1871.2 299.5 1870.1 298.5 1868.7 298.1 1867.4 298.5 1866.1 299.9 1863.4 299.2 1863.2 298.2 1862.2 297.2 1860.8 296.8 1859.4 297.2 1858.7 297.9 1856.4 297.2 1854.5 309.2 1853.5 309.0 1852.3 306.0 1851.9 304.6 1850.9 303.6 1849.5 303.2 1848.1 303.6 1847.0 304.6 1846.7 306.0 1845.5 307.3 1844.4 307.1 1843.2 296.0 1842.8 294.6 1841.8 293.6 1840.4 293.2 1839.0 293.6 1838.0 294.6 1837.6 296.0 1836.4 307.2 1836.4 310.2 1837.5 310.2ZM1654.5 307.4 1654.5 310.4 1657.0 310.4 1657.0 342.4 1658.2 362.5 1658.5 363.9 1659.6 364.9 1661.0 365.3 1662.4 364.9 1663.4 363.9 1663.8 362.5 1664.3 351.0 1664.5 350.9 1665.6 352.0 1666.9 352.4 1668.3 352.0 1669.4 351.0 1669.7 349.6 1670.9 315.8 1673.1 315.8 1674.8 317.8 1677.2 328.4 1678.2 329.4 1679.6 329.8 1681.0 329.4 1682.0 328.4 1682.3 327.2 1682.4 327.2 1682.9 327.8 1685.7 307.8 1690.7 307.8 1692.7 310.6 1695.1 321.3 1696.1 322.3 1697.5 322.7 1698.9 322.3 1700.2 321.0 1701.1 324.0 1702.1 325.0 1703.5 325.4 1704.9 325.0 1705.9 324.0 1706.3 322.6 1708.0 310.6 1708.9 310.6 1710.7 321.6 1711.1 323.0 1712.1 324.1 1713.5 324.4 1714.9 324.1 1716.0 322.9 1717.5 327.8 1718.7 337.6 1719.1 339.0 1720.1 340.0 1721.5 340.4 1722.9 340.0 1723.9 339.0 1724.3 337.6 1725.3 323.2 1725.5 323.1 1727.4 325.0 1728.8 325.4 1730.2 325.0 1731.2 324.0 1731.6 322.6 1733.4 313.2 1736.9 300.1 1739.0 299.8 1740.4 299.8 1742.4 320.6 1742.7 322.0 1743.8 323.0 1745.2 323.4 1746.6 323.0 1747.6 322.0 1749.4 315.8 1750.4 315.8 1750.7 317.1 1751.7 318.1 1753.1 318.5 1754.5 318.1 1755.6 317.1 1755.9 315.7 1757.9 313.1 1760.2 313.1 1762.0 315.8 1765.5 315.8 1765.5 302.7 1768.0 302.7 1768.0 299.4 1767.8 298.0 1766.8 296.9 1765.4 296.6 1764.0 296.9 1763.0 297.9 1760.7 297.9 1759.8 287.3 1758.9 271.0 1758.5 269.6 1757.5 268.6 1756.1 268.2 1754.7 268.6 1753.6 269.6 1753.3 271.0 1752.1 287.2 1750.7 287.2 1745.4 289.2 1744.5 277.0 1744.1 275.6 1743.1 274.6 1741.7 274.2 1740.3 274.6 1739.3 275.6 1738.9 277.0 1737.7 294.1 1734.8 295.9 1733.6 295.4 1733.2 294.0 1732.2 292.9 1730.8 292.6 1729.4 292.9 1728.2 294.1 1727.2 293.8 1726.0 282.3 1725.6 280.9 1724.6 279.9 1723.2 279.5 1721.8 279.9 1720.8 280.9 1720.4 282.3 1719.2 300.5 1715.9 303.2 1712.4 303.6 1711.2 287.1 1710.9 285.7 1709.8 284.7 1708.4 284.3 1707.0 284.7 1706.0 285.7 1705.6 287.1 1704.4 304.4 1702.9 304.5 1698.9 307.2 1692.2 291.2 1690.9 292.3 1689.7 282.1 1689.3 280.7 1688.3 279.6 1686.9 279.3 1685.5 279.6 1684.5 280.7 1684.1 282.1 1682.9 299.4 1681.6 300.5 1680.7 300.0 1680.3 298.6 1679.3 297.6 1677.9 297.2 1676.5 297.6 1675.4 298.6 1675.1 300.0 1674.3 301.2 1672.9 302.1 1671.7 300.9 1670.3 300.5 1668.9 300.9 1667.8 301.9 1666.9 305.9 1665.2 305.5 1664.4 304.6 1663.0 304.3 1661.6 304.6 1661.5 304.8 1660.3 304.5 1658.6 304.5 1657.6 304.3 1656.2 304.6 1655.2 305.7 1654.8 307.1ZM1669.0 322.5 1667.9 322.4 1668.7 315.8 1670.3 315.8ZM1529.3 299.3 1526.6 297.9 1526.6 310.5 1529.3 310.5 1535.3 314.5 1537.1 316.7 1539.1 333.6 1539.5 335.0 1540.5 336.0 1541.9 336.4 1543.3 336.0 1544.3 335.0 1544.7 333.6 1546.7 328.5 1547.2 329.1 1548.4 321.1 1549.9 321.1 1550.4 334.6 1550.8 336.0 1551.8 337.0 1553.2 337.4 1554.6 337.0 1555.7 336.0 1556.0 334.6 1557.7 322.3 1558.3 322.2 1559.7 325.6 1560.1 327.0 1561.1 328.1 1562.5 328.4 1563.9 328.1 1565.0 327.0 1565.3 325.6 1565.7 317.3 1566.8 317.3 1568.6 349.6 1569.0 351.0 1570.0 352.0 1571.4 352.4 1572.8 352.0 1573.9 351.0 1574.2 349.6 1575.6 322.2 1576.5 322.1 1576.7 323.0 1577.8 324.1 1579.2 324.4 1580.6 324.1 1581.6 323.0 1584.0 315.5 1586.6 315.5 1586.6 312.9 1589.1 312.9 1589.1 289.0 1588.9 287.6 1587.9 286.6 1586.5 286.2 1585.1 286.6 1584.1 287.6 1583.7 289.0 1582.5 309.9 1580.5 309.9 1577.8 303.2 1577.4 302.8 1576.2 283.1 1575.9 281.7 1574.8 280.7 1573.4 280.3 1572.0 280.7 1571.0 281.7 1570.6 283.1 1569.5 293.9 1568.5 293.8 1567.3 292.0 1567.0 290.6 1565.9 289.6 1564.5 289.2 1563.1 289.6 1562.1 290.6 1561.7 292.0 1560.5 292.6 1559.2 286.6 1558.2 285.6 1556.8 285.2 1555.4 285.6 1554.4 286.6 1554.0 288.0 1552.8 296.4 1549.9 297.9 1544.1 314.5 1543.7 314.5 1539.9 303.9 1536.6 303.2 1536.1 295.1 1535.7 293.7 1534.7 292.7 1533.3 292.3 1531.9 292.7 1530.9 293.7ZM1415.4 311.0 1414.7 311.1 1413.3 306.6 1412.3 305.6 1410.9 305.2 1409.5 305.6 1408.5 306.6 1408.3 308.0 1408.3 314.8 1410.8 314.8 1410.8 326.4 1412.2 326.4 1413.2 340.7 1413.5 342.1 1414.6 343.1 1416.0 343.5 1417.4 343.1 1418.4 342.1 1418.8 340.7 1420.8 313.1 1424.7 313.1 1425.4 312.3 1427.4 315.4 1427.8 316.8 1428.8 317.8 1430.2 318.2 1431.6 317.8 1432.6 316.8 1433.0 315.4 1434.9 303.8 1437.3 303.8 1438.3 305.7 1440.3 322.6 1440.7 324.0 1441.7 325.0 1443.1 325.4 1444.5 325.0 1445.5 324.0 1446.1 321.8 1446.9 321.9 1447.7 344.7 1448.1 346.1 1449.1 347.1 1450.5 347.5 1451.9 347.1 1453.0 346.1 1453.3 344.7 1455.3 322.7 1460.8 313.1 1463.6 307.8 1466.9 307.8 1468.2 310.1 1470.2 349.6 1470.6 351.0 1471.6 352.0 1473.0 352.4 1474.4 352.0 1475.5 351.0 1475.8 349.6 1477.8 320.8 1478.2 320.8 1478.2 318.2 1480.7 318.2 1480.7 277.0 1480.5 275.6 1479.5 274.6 1478.1 274.2 1476.7 274.6 1475.7 275.6 1475.3 277.0 1474.1 313.2 1473.8 313.4 1471.0 310.3 1470.0 291.1 1469.6 289.7 1468.6 288.7 1467.2 288.3 1465.8 288.7 1464.7 289.7 1464.3 291.4 1463.8 291.4 1463.7 291.2 1463.6 291.4 1462.9 291.1 1462.5 289.7 1461.5 288.7 1460.1 288.3 1458.7 288.7 1457.7 289.7 1457.3 291.1 1456.2 297.8 1456.1 297.8 1454.1 295.9 1450.2 295.2 1449.5 294.8 1448.3 277.0 1447.9 275.6 1446.9 274.6 1445.5 274.2 1444.1 274.6 1443.1 275.6 1442.7 277.0 1441.5 289.3 1439.5 287.9 1438.5 288.3 1436.9 281.7 1435.9 280.7 1434.5 280.3 1433.1 280.7 1432.0 281.7 1431.7 283.1 1430.5 291.6 1428.2 292.6 1427.3 292.4 1426.1 279.1 1425.7 277.7 1424.7 276.7 1423.3 276.3 1421.9 276.7 1420.9 277.7 1420.5 279.1 1419.3 291.4 1417.6 291.2ZM1313.8 323.8 1314.6 323.1 1316.6 325.6 1317.0 327.0 1318.0 328.1 1319.4 328.4 1320.8 328.1 1321.8 327.0 1322.2 325.6 1324.2 314.5 1330.7 314.5 1333.1 325.0 1334.1 326.1 1335.5 326.4 1336.9 326.1 1337.9 325.0 1340.3 314.5 1343.6 314.5 1345.6 326.3 1346.0 327.7 1347.0 328.7 1348.4 329.1 1349.8 328.7 1350.8 327.7 1351.2 326.3 1353.2 315.8 1356.2 315.8 1357.7 323.8 1358.0 324.0 1360.0 340.7 1360.3 342.1 1361.4 343.1 1362.8 343.5 1364.2 343.1 1365.2 342.1 1367.5 332.1 1375.7 318.4 1378.3 307.8 1379.7 307.8 1380.3 321.1 1380.3 304.2 1382.8 304.2 1382.8 301.2 1382.2 297.0 1381.8 295.6 1380.8 294.5 1379.4 294.2 1378.0 294.5 1377.0 295.6 1375.4 301.2 1371.7 301.2 1369.4 305.1 1368.9 305.0 1367.7 290.0 1367.3 288.6 1366.4 287.6 1365.0 287.2 1363.6 287.6 1362.9 288.3 1361.5 287.8 1361.3 287.3 1360.4 286.3 1359.0 285.9 1357.6 286.3 1356.6 287.3 1356.2 288.9 1355.9 288.9 1354.8 287.1 1354.4 285.7 1353.4 284.7 1352.0 284.3 1350.6 284.7 1349.6 285.7 1349.2 287.1 1348.0 300.2 1347.7 300.5 1346.7 300.6 1345.5 286.1 1345.1 284.7 1344.1 283.6 1342.7 283.3 1341.3 283.6 1340.3 284.7 1339.9 286.1 1338.7 301.1 1337.8 301.2 1335.1 302.5 1331.8 299.9 1330.5 300.3 1329.3 292.0 1328.9 290.6 1327.9 289.6 1326.5 289.2 1325.1 289.6 1324.0 290.6 1323.7 292.0 1322.5 303.0 1321.8 303.2 1319.8 309.9 1318.2 309.9 1316.9 308.6 1315.5 308.3 1314.1 308.6 1313.1 309.7 1312.7 311.1 1311.5 311.4 1311.5 314.4 1313.8 314.4ZM1123.0 314.8 1123.0 334.4 1124.4 344.7 1124.8 346.1 1125.8 347.1 1127.2 347.5 1128.6 347.1 1129.6 346.1 1130.0 344.7 1132.0 326.4 1135.0 326.4 1137.0 353.6 1137.4 355.0 1138.4 356.0 1139.8 356.4 1141.2 356.0 1142.3 355.0 1142.6 353.6 1144.6 319.2 1145.6 318.5 1149.6 319.8 1151.7 307.8 1156.7 307.8 1158.7 311.6 1160.7 358.2 1161.1 359.6 1162.1 360.7 1163.5 361.0 1164.9 360.7 1165.9 359.6 1166.3 358.2 1168.3 330.5 1168.8 330.4 1169.5 331.8 1177.5 323.8 1183.6 314.5 1186.1 314.5 1188.0 328.3 1188.4 329.7 1189.4 330.7 1190.8 331.1 1192.2 330.7 1193.2 329.7 1193.6 328.3 1195.6 313.4 1197.4 313.1 1199.6 305.8 1204.6 305.8 1206.8 309.2 1207.0 309.0 1208.1 308.8 1209.5 306.8 1209.9 307.0 1211.9 348.3 1212.3 349.7 1213.3 350.7 1214.7 351.1 1216.1 350.7 1217.2 349.7 1217.5 348.3 1219.5 301.2 1223.2 301.2 1226.6 305.5 1228.6 325.0 1228.9 326.4 1230.0 327.4 1231.4 327.8 1232.8 327.4 1233.8 326.4 1234.2 325.0 1235.5 317.2 1236.4 317.2 1237.9 328.3 1238.2 329.7 1239.3 330.7 1240.7 331.1 1242.1 330.7 1243.1 329.7 1243.5 328.3 1243.9 316.9 1244.9 316.8 1246.5 327.4 1246.9 328.8 1247.9 329.8 1249.3 330.2 1250.7 329.8 1251.7 328.8 1252.1 327.4 1252.7 319.7 1253.8 319.7 1254.1 324.3 1254.5 325.7 1255.5 326.7 1256.9 327.1 1258.3 326.7 1259.3 325.7 1259.7 324.3 1261.3 319.8 1264.6 315.8 1265.8 305.2 1267.3 305.2 1268.7 326.3 1269.1 327.7 1270.1 328.7 1271.5 329.1 1272.9 328.7 1273.9 327.7 1274.3 326.3 1274.9 319.5 1275.8 319.5 1276.0 321.3 1276.4 322.7 1277.4 323.7 1278.8 324.1 1279.9 323.7 1280.8 322.4 1281.1 322.5 1281.8 327.4 1282.1 328.8 1283.2 329.8 1284.6 330.2 1286.0 329.8 1287.0 328.8 1287.4 327.4 1288.5 305.2 1289.6 305.2 1290.5 307.8 1292.0 307.8 1292.0 284.9 1294.5 284.9 1294.5 273.0 1294.3 271.6 1293.3 270.6 1291.9 270.2 1290.5 270.6 1289.4 271.6 1289.1 273.0 1287.8 282.4 1279.2 275.9 1275.3 286.2 1274.2 287.3 1272.7 292.9 1271.9 292.9 1270.7 282.1 1270.4 280.7 1269.3 279.6 1267.9 279.3 1266.5 279.6 1265.5 280.7 1265.1 282.1 1263.9 293.7 1260.6 293.9 1258.9 293.5 1257.7 273.0 1257.3 271.6 1256.3 270.6 1254.9 270.2 1253.5 270.6 1252.5 271.6 1252.1 273.0 1250.9 291.7 1249.0 291.2 1248.0 292.1 1246.8 284.7 1246.4 283.3 1245.4 282.3 1244.0 281.9 1242.6 282.3 1241.6 283.3 1241.2 284.7 1240.0 298.4 1238.9 299.3 1237.4 293.6 1236.3 292.5 1234.9 292.2 1233.5 292.5 1232.5 293.6 1232.1 295.0 1231.1 304.5 1230.3 304.6 1225.4 287.2 1224.0 288.3 1222.8 281.1 1222.5 279.7 1221.4 278.7 1220.0 278.3 1218.6 278.7 1217.6 279.7 1217.2 281.1 1216.0 294.9 1210.7 299.2 1208.1 303.2 1205.4 298.5 1204.2 277.8 1203.9 276.4 1202.8 275.4 1201.4 275.0 1200.0 275.4 1199.0 276.4 1198.6 277.8 1197.5 283.8 1197.1 283.9 1196.8 283.3 1195.9 284.2 1195.8 284.2 1195.6 283.3 1194.6 282.3 1193.2 281.9 1191.8 282.3 1190.8 283.3 1190.4 284.7 1189.5 291.9 1186.1 292.6 1184.9 286.1 1184.6 284.7 1183.5 283.6 1182.1 283.3 1180.7 283.6 1179.7 284.7 1179.3 286.1 1178.1 300.0 1176.2 301.9 1174.3 310.5 1173.9 310.6 1172.8 308.5 1169.3 308.5 1168.1 290.0 1167.7 288.6 1166.7 287.6 1165.3 287.2 1163.9 287.6 1162.8 288.6 1162.5 290.0 1162.3 300.0 1161.4 300.1 1157.5 283.3 1156.6 283.8 1155.4 273.0 1155.0 271.6 1154.0 270.6 1152.6 270.2 1151.2 270.6 1150.2 271.6 1149.8 273.0 1148.6 288.2 1145.6 289.9 1140.2 305.2 1138.5 306.3 1137.0 299.9 1135.9 298.9 1134.5 298.5 1133.1 298.9 1132.1 299.9 1131.7 301.3 1130.5 311.3 1129.0 312.2 1127.8 282.1 1127.4 280.7 1126.4 279.6 1125.0 279.3 1123.6 279.6 1122.5 280.7 1122.2 282.1 1121.0 311.8 1121.0 314.8ZM165.3 346.4 167.3 343.1 170.0 344.0 176.0 343.7 176.9 350.9 177.3 352.3 178.3 353.3 179.7 353.7 181.1 353.3 182.1 352.3 182.5 350.9 184.5 333.1 186.6 333.1 187.5 335.6 187.9 337.0 188.9 338.0 190.3 338.4 191.7 338.0 192.8 337.0 193.1 335.6 193.9 335.7 195.1 349.6 195.5 351.0 196.5 352.0 197.9 352.4 199.3 352.0 200.3 351.0 200.7 349.6 201.2 343.1 206.6 339.7 207.6 331.8 209.5 331.8 211.5 352.9 211.8 354.3 212.9 355.3 214.3 355.7 215.7 355.3 216.7 354.3 217.1 352.9 219.1 329.0 222.4 326.7 224.4 348.6 224.7 350.0 225.8 351.1 227.2 351.4 228.6 351.1 229.6 350.0 230.0 348.6 231.8 324.9 233.0 325.0 235.0 349.6 235.4 351.0 236.4 352.0 237.8 352.4 239.2 352.0 240.2 351.0 242.5 341.9 242.9 341.9 243.1 342.4 247.1 338.4 250.6 331.8 255.0 331.8 257.0 353.6 257.3 355.0 258.4 356.0 259.8 356.4 261.2 356.0 262.2 355.0 262.6 353.6 264.6 318.5 266.4 318.5 268.0 324.4 269.0 325.4 270.4 325.8 271.7 325.4 272.6 324.5 273.1 325.2 273.4 326.4 274.4 327.4 275.7 327.8 277.0 327.4 278.2 326.2 278.4 326.3 278.9 333.0 279.3 334.4 280.3 335.4 281.7 335.8 283.0 335.4 284.1 334.2 284.4 334.3 284.6 339.6 285.0 341.0 286.0 342.0 287.4 342.4 288.8 342.0 289.8 341.0 292.3 330.0 292.8 329.9 293.5 331.6 293.9 333.0 294.9 334.0 296.3 334.4 297.7 334.0 298.6 333.0 299.0 331.6 299.0 326.4 300.2 326.4 300.6 327.7 301.6 328.7 303.0 329.1 304.4 328.7 305.4 327.7 305.7 326.5 306.5 326.6 306.8 330.3 307.2 331.7 308.2 332.7 308.8 332.9 310.4 370.9 310.8 372.3 311.8 373.3 313.2 373.7 314.6 373.3 315.6 372.3 316.0 370.9 318.0 330.4 320.1 330.4 322.1 334.3 322.5 335.7 323.5 336.7 324.9 337.1 326.3 336.7 328.0 335.0 328.2 335.1 330.1 354.9 330.5 356.3 331.5 357.3 332.9 357.7 334.3 357.3 335.3 356.3 335.7 354.9 336.3 347.7 337.3 347.7 337.4 348.9 337.8 350.3 338.8 351.3 340.2 351.7 341.6 351.3 342.6 350.3 343.0 348.9 344.3 328.6 345.3 328.6 346.1 344.9 346.4 346.3 347.5 347.3 348.9 347.7 350.3 347.3 351.3 346.3 353.4 337.8 354.0 337.8 354.2 338.4 358.2 337.1 360.0 321.2 362.2 321.1 363.3 321.6 366.7 323.2 368.7 343.6 369.1 345.0 370.1 346.0 371.5 346.4 372.9 346.0 373.9 345.0 374.3 343.6 376.3 316.1 377.0 315.8 381.3 315.8 383.3 327.6 383.7 329.0 384.7 330.1 386.1 330.4 387.5 330.1 388.5 329.0 388.9 327.6 390.8 315.5 391.9 316.2 393.9 347.6 394.3 349.0 395.3 350.0 396.7 350.4 398.1 350.0 399.2 349.0 399.5 347.6 401.4 337.5 401.9 337.4 403.4 341.1 405.3 323.9 406.2 319.5 409.3 316.6 411.2 315.8 412.6 318.1 414.6 334.3 414.9 335.7 416.0 336.7 417.4 337.1 418.8 336.7 419.8 335.7 420.2 334.3 421.7 334.1 422.7 335.7 425.8 330.7 425.9 330.7 427.9 335.6 428.2 337.0 429.3 338.0 430.7 338.4 431.7 338.0 432.4 337.0 432.7 335.6 432.7 332.8 433.0 332.7 434.0 333.8 435.3 334.2 436.7 333.8 437.7 332.8 438.1 331.4 438.6 325.8 439.8 325.8 441.8 343.6 442.2 345.0 443.2 346.0 444.6 346.4 446.0 346.0 447.1 345.0 447.4 343.6 449.4 339.0 449.9 339.7 451.9 333.4 452.4 333.4 452.8 335.0 453.9 336.0 455.3 336.4 456.7 336.0 457.7 335.0 458.1 333.6 458.4 330.6 459.2 330.5 459.5 331.7 460.5 332.7 461.9 333.1 462.7 332.9 465.6 337.6 467.5 364.6 467.9 366.0 468.9 367.0 470.3 367.4 471.7 367.0 472.7 366.0 473.1 364.6 475.1 326.0 475.9 325.1 480.5 321.1 487.2 319.8 487.7 335.3 488.1 336.7 489.1 337.8 490.5 338.1 491.9 337.8 492.9 336.7 493.3 335.3 494.5 323.8 496.3 323.8 497.8 339.7 498.0 339.3 498.5 339.4 500.4 349.6 500.7 351.0 501.8 352.0 503.2 352.4 504.6 352.0 505.6 351.0 506.0 349.6 508.0 318.6 509.8 317.4 511.1 316.0 511.4 316.1 513.4 352.6 513.8 354.0 514.8 355.1 516.2 355.4 517.6 355.1 518.6 354.0 520.7 347.0 521.0 347.0 522.7 335.8 524.7 335.8 525.9 348.6 526.3 350.0 527.3 351.1 528.7 351.4 529.9 351.1 530.9 349.9 531.2 349.9 531.6 353.6 532.0 355.0 533.0 356.0 534.4 356.4 535.8 356.0 536.8 355.0 537.2 353.6 539.2 334.3 540.4 331.8 543.3 315.6 545.2 314.1 549.3 314.1 550.4 317.1 553.6 319.2 555.6 340.7 555.9 342.1 557.0 343.1 558.4 343.5 559.8 343.1 560.8 342.1 561.2 340.7 562.7 326.2 563.5 326.2 564.6 330.4 565.6 331.4 567.0 331.8 568.0 331.4 568.7 330.4 569.0 330.5 570.2 338.5 570.6 339.9 571.6 341.0 573.0 341.3 574.4 341.0 575.4 339.9 575.8 338.5 576.3 321.8 581.6 321.8 582.8 315.8 584.4 315.8 586.4 335.6 586.8 337.0 587.8 338.0 589.2 338.4 590.6 338.0 591.6 337.0 592.0 335.6 594.0 315.8 595.8 315.8 598.2 327.0 599.2 328.1 600.6 328.4 601.8 328.1 602.8 326.8 603.0 326.8 605.1 336.7 606.2 337.8 607.6 338.1 609.0 337.8 610.0 336.7 610.4 335.3 611.6 309.2 613.7 309.2 616.2 318.5 618.7 319.2 621.1 327.0 622.1 328.1 623.5 328.4 624.9 328.1 625.9 327.0 626.3 325.6 627.8 322.0 628.4 322.1 630.3 338.5 630.7 339.9 631.7 341.0 633.1 341.3 634.5 341.0 635.5 339.9 635.9 338.5 636.7 318.7 637.8 318.7 639.6 348.6 640.0 350.0 641.0 351.1 642.4 351.4 643.8 351.1 644.8 350.0 645.2 348.6 646.4 332.0 647.4 331.9 648.7 343.6 649.0 345.0 650.1 346.0 651.5 346.4 652.9 346.0 653.9 345.0 654.3 343.6 656.1 318.5 658.6 318.5 661.4 327.8 663.7 337.0 664.7 338.0 666.1 338.4 667.5 338.0 668.5 337.0 669.0 335.3 669.8 335.4 670.6 352.6 671.0 354.0 672.0 355.1 673.4 355.4 674.8 355.1 675.8 354.0 676.2 352.6 678.1 337.5 682.7 334.4 683.9 318.5 686.8 318.5 687.9 320.4 689.9 331.6 690.3 333.0 691.3 334.0 692.7 334.4 694.1 334.0 695.1 333.0 695.4 331.8 696.5 331.8 698.9 342.6 699.9 343.6 701.3 344.0 702.7 343.6 703.8 342.6 704.1 341.2 705.3 328.4 708.0 329.1 709.3 323.0 712.5 322.1 714.9 329.7 715.9 330.7 717.3 331.1 718.7 330.7 719.7 329.7 720.1 328.3 722.1 316.0 725.7 312.8 728.2 321.3 729.2 322.3 730.6 322.7 732.0 322.3 733.0 321.3 733.4 319.9 734.5 312.0 735.3 312.0 736.4 319.0 736.8 320.4 737.8 321.4 739.2 321.8 740.6 321.4 741.7 320.4 742.0 319.0 744.0 306.5 745.5 306.5 747.5 319.0 747.9 320.4 748.9 321.4 750.3 321.8 751.4 321.4 752.2 320.4 752.5 320.5 752.8 323.0 753.2 324.4 754.2 325.4 755.6 325.8 757.0 325.4 758.0 324.4 758.4 323.0 760.3 311.2 761.1 311.2 763.0 325.0 763.4 326.4 764.4 327.4 765.8 327.8 767.2 327.4 768.3 326.4 768.6 325.2 769.3 325.2 771.3 338.3 771.7 339.7 772.7 340.7 774.1 341.1 775.5 340.7 776.5 339.7 776.9 338.3 778.6 321.6 779.5 321.6 780.3 328.3 780.7 329.7 781.7 330.7 783.1 331.1 784.5 330.7 785.6 329.7 785.9 328.3 787.9 313.1 791.0 313.1 793.0 326.3 793.3 327.7 794.4 328.7 795.8 329.1 797.2 328.7 798.2 327.7 798.6 326.3 800.6 309.2 802.0 309.2 804.0 341.2 804.4 342.6 805.4 343.6 806.8 344.0 808.2 343.6 809.2 342.6 809.6 341.2 810.9 326.1 811.1 326.0 812.4 327.4 813.7 327.8 815.1 327.4 816.1 326.4 816.5 325.0 817.2 315.6 818.0 315.6 818.6 317.7 819.6 318.8 821.0 319.1 822.0 318.8 822.6 317.9 823.0 318.0 824.2 331.4 824.6 332.8 825.6 333.8 827.0 334.2 828.4 333.8 829.4 332.8 829.8 331.4 831.8 307.8 833.1 307.8 835.1 347.3 835.5 348.7 836.5 349.7 837.9 350.1 839.3 349.7 840.4 348.7 840.7 347.3 842.7 312.6 843.3 311.4 845.0 310.5 846.5 317.7 847.6 318.8 849.0 319.1 850.4 318.8 851.4 317.7 851.8 316.3 853.0 307.8 855.2 307.8 857.1 310.7 859.1 347.3 859.4 348.7 860.5 349.7 861.9 350.1 863.3 349.7 864.3 348.7 864.7 347.3 866.6 325.7 867.0 325.6 867.6 326.4 870.9 321.1 872.5 302.5 876.5 302.5 878.2 318.5 880.5 319.4 882.5 338.3 882.9 339.7 883.9 340.7 885.3 341.1 886.7 340.7 887.7 339.7 888.1 338.3 889.7 325.7 890.6 325.7 891.7 334.9 892.0 336.3 893.1 337.4 894.5 337.7 895.9 337.4 896.9 336.3 897.3 334.9 899.0 325.4 899.8 325.5 900.7 331.4 901.1 332.8 902.1 333.8 903.5 334.2 904.9 333.8 905.9 332.8 906.3 331.4 908.3 311.6 908.8 311.5 911.3 309.3 912.6 309.2 913.6 310.5 915.6 356.2 916.0 357.6 917.0 358.7 918.4 359.0 919.8 358.7 920.8 357.6 921.2 356.2 923.2 325.1 926.1 325.1 928.0 326.3 928.3 327.7 929.4 328.7 930.8 329.1 932.2 328.7 933.2 327.7 933.6 326.3 935.4 310.7 936.3 310.7 937.7 321.3 938.0 322.7 939.1 323.7 940.5 324.1 941.9 323.7 942.9 322.7 943.3 321.3 945.3 299.8 948.6 299.8 950.6 340.3 951.0 341.7 952.0 342.7 953.4 343.1 954.8 342.7 955.8 341.7 956.2 340.3 956.8 333.4 957.8 333.4 957.9 334.9 958.3 336.3 959.3 337.4 960.7 337.7 962.1 337.4 963.1 336.3 963.5 334.9 965.3 312.0 966.3 311.9 967.9 329.0 968.2 330.4 969.3 331.4 970.7 331.8 972.1 331.4 973.1 330.4 973.5 329.0 975.5 326.4 976.1 326.4 978.1 329.6 978.5 331.0 979.5 332.1 980.9 332.4 982.3 332.1 983.3 331.0 983.7 329.6 985.7 326.4 988.2 326.4 988.7 325.4 989.0 325.4 990.9 330.3 991.3 331.7 992.3 332.7 993.7 333.1 995.1 332.7 996.1 331.7 996.5 330.3 998.1 313.8 999.1 313.8 999.8 319.0 1000.2 320.4 1001.2 321.4 1002.6 321.8 1003.7 321.4 1004.5 320.5 1004.8 320.6 1005.1 324.3 1005.5 325.7 1006.5 326.7 1007.9 327.1 1009.3 326.7 1010.3 325.7 1012.6 316.0 1013.3 316.0 1014.8 321.7 1015.8 322.7 1017.2 323.1 1018.6 322.7 1019.6 321.7 1020.0 320.3 1020.1 319.1 1021.2 319.1 1021.7 329.6 1022.1 331.0 1023.1 332.1 1024.5 332.4 1025.5 332.1 1026.2 331.2 1026.4 331.2 1026.6 332.3 1027.3 332.3 1027.5 332.7 1028.5 333.1 1029.9 332.7 1030.9 331.7 1031.5 329.5 1032.1 329.5 1032.7 331.7 1033.8 332.7 1035.2 333.1 1036.6 332.7 1037.6 331.7 1038.0 330.3 1040.0 315.7 1042.3 316.3 1042.7 317.7 1043.7 318.8 1045.1 319.1 1046.5 318.8 1047.5 317.7 1047.8 317.8 1047.8 319.4 1048.2 320.8 1049.1 321.8 1050.5 322.2 1051.9 321.8 1052.9 320.8 1055.1 310.6 1056.3 311.7 1056.7 313.1 1057.7 314.1 1059.1 314.5 1060.5 314.1 1061.5 313.1 1061.9 311.7 1062.1 310.5 1062.9 310.5 1063.6 314.6 1064.0 316.0 1065.0 317.0 1066.4 317.4 1067.8 317.0 1068.4 316.4 1069.1 317.8 1069.2 353.6 1069.6 355.0 1070.6 356.0 1072.0 356.4 1073.4 356.0 1074.4 355.0 1074.8 353.6 1076.4 307.8 1078.8 307.8 1079.6 307.6 1081.6 320.3 1082.0 321.7 1083.0 322.7 1084.4 323.1 1085.8 322.7 1086.8 321.7 1087.2 320.3 1087.6 315.6 1088.6 315.6 1088.9 326.3 1089.3 327.7 1090.3 328.7 1091.7 329.1 1093.1 328.7 1094.1 327.7 1094.5 326.3 1096.5 305.2 1096.5 302.2 1094.5 302.2 1094.5 296.3 1097.0 296.3 1097.0 293.0 1096.8 291.6 1095.8 290.5 1094.4 290.2 1093.0 290.5 1091.9 291.6 1091.6 293.0 1090.5 293.2 1089.7 293.2 1085.0 292.6 1084.0 275.1 1083.6 273.7 1082.6 272.7 1081.2 272.3 1079.8 272.7 1078.8 273.7 1078.4 275.1 1077.2 288.3 1076.4 287.9 1072.4 295.9 1068.4 301.9 1066.8 301.5 1065.3 296.0 1064.2 294.9 1062.8 294.6 1061.4 294.9 1060.4 296.0 1060.0 297.4 1058.8 299.9 1057.8 299.4 1056.6 288.3 1056.2 286.9 1055.2 285.9 1053.8 285.5 1052.4 285.9 1051.4 286.9 1051.0 288.3 1050.0 294.5 1049.9 294.6 1048.3 292.9 1046.9 292.6 1045.5 292.9 1044.5 294.0 1044.1 295.4 1042.8 297.9 1042.5 297.9 1041.3 294.0 1040.3 292.9 1038.9 292.6 1037.5 292.9 1036.5 294.0 1036.1 295.4 1035.8 301.2 1033.9 301.5 1032.7 286.1 1032.3 284.7 1031.3 283.6 1029.9 283.3 1028.5 283.6 1027.4 284.7 1027.1 286.1 1025.9 302.9 1023.9 303.2 1021.2 300.5 1019.0 300.5 1017.8 286.1 1017.4 284.7 1016.4 283.6 1015.0 283.3 1013.6 283.6 1012.5 284.7 1012.2 286.1 1011.0 300.5 1008.6 300.5 1004.6 297.2 1002.6 297.6 1001.4 296.0 1001.0 294.6 1000.0 293.6 998.6 293.2 997.2 293.6 996.2 294.6 995.8 296.0 994.6 299.2 994.1 300.3 992.7 298.9 991.3 298.5 989.9 298.9 988.9 299.9 988.5 301.3 987.3 314.5 984.6 314.5 980.0 301.9 976.9 300.6 975.4 294.0 974.3 292.9 972.9 292.6 971.5 292.9 970.2 294.3 969.9 294.2 968.8 257.5 968.4 256.1 967.4 255.0 966.0 254.7 964.6 255.0 963.6 256.1 963.2 257.5 962.0 294.2 961.4 293.9 960.8 294.4 960.0 293.6 958.7 293.2 957.3 293.6 956.3 294.6 955.9 296.0 955.7 297.8 954.9 297.8 951.4 283.3 950.2 281.1 949.8 279.7 948.8 278.7 947.4 278.3 946.0 278.7 945.0 279.7 944.6 281.1 943.4 293.5 942.1 295.2 940.7 296.1 939.5 281.4 939.2 280.0 938.1 279.0 936.7 278.6 935.3 279.0 934.3 280.0 933.9 281.4 932.7 301.3 930.8 302.5 929.4 301.8 928.2 287.4 927.9 286.0 926.8 285.0 925.4 284.6 924.0 285.0 923.0 286.0 922.6 287.4 921.4 297.6 919.5 296.6 916.8 298.9 915.2 294.0 914.2 292.9 912.8 292.6 911.4 292.9 910.4 294.0 910.0 295.4 908.9 305.6 908.7 305.6 906.9 303.8 905.5 303.5 904.1 303.8 903.1 304.9 902.7 306.3 901.7 307.8 900.8 306.9 899.5 306.5 898.1 306.9 897.1 307.9 896.7 309.3 895.5 317.2 894.3 319.0 894.1 319.0 888.9 302.5 884.2 294.6 878.9 288.6 878.5 288.5 877.3 278.1 876.9 276.7 875.9 275.6 874.5 275.3 873.1 275.6 872.1 276.7 871.7 278.1 870.5 286.6 870.2 286.6 867.8 292.6 867.2 292.5 866.4 283.4 866.0 282.0 865.0 281.0 863.6 280.6 862.2 281.0 861.2 282.0 860.8 283.4 859.6 306.2 858.9 307.2 855.0 301.9 854.7 301.7 853.5 293.4 853.1 292.0 852.1 290.9 850.7 290.6 849.3 290.9 848.3 292.0 847.9 293.4 847.4 297.9 846.9 298.8 845.7 297.6 844.3 297.2 842.9 297.6 841.9 298.6 841.5 300.0 840.6 308.6 839.0 307.7 837.0 297.9 834.3 296.6 833.5 291.4 833.2 290.0 832.1 288.9 830.7 288.6 829.3 288.9 828.3 290.0 826.7 296.3 825.7 296.3 823.0 297.2 821.9 298.4 821.7 298.4 820.5 288.4 820.1 287.0 819.1 286.0 817.7 285.6 816.3 286.0 815.3 287.0 814.9 288.4 813.7 307.1 812.6 308.3 812.4 308.2 811.9 299.4 811.5 298.0 810.5 296.9 809.1 296.6 807.7 296.9 806.6 298.0 805.1 303.0 804.4 302.5 801.8 302.9 800.2 296.9 799.2 295.9 797.8 295.5 796.4 295.9 795.3 296.9 794.6 300.2 793.2 298.9 791.8 298.5 790.4 298.9 789.3 299.9 787.8 305.1 787.1 305.2 785.2 311.8 782.1 313.7 778.5 307.5 775.2 307.2 774.2 306.2 773.0 267.2 772.7 265.8 771.6 264.7 770.2 264.4 768.8 264.7 767.8 265.8 767.4 267.2 766.2 297.1 763.5 297.8 762.6 296.9 761.2 296.6 759.8 296.9 758.8 298.0 758.5 299.0 753.2 300.3 751.9 299.9 750.7 297.4 750.3 296.0 749.3 294.9 747.9 294.6 746.5 294.9 745.4 296.1 744.2 294.9 742.8 294.6 741.4 294.9 740.4 296.0 740.1 297.0 738.6 296.6 738.0 297.1 737.7 296.0 736.6 294.9 735.2 294.6 733.8 294.9 732.8 296.0 732.4 297.6 730.9 297.2 729.5 297.6 728.4 298.6 728.1 300.0 727.3 305.9 725.4 307.5 725.0 305.9 724.0 304.9 722.6 304.5 721.2 304.9 720.2 305.9 718.6 313.4 716.6 315.2 714.0 316.0 712.8 297.4 712.4 296.0 711.4 294.9 710.0 294.6 708.6 294.9 707.6 296.0 707.2 297.4 706.0 318.5 703.7 319.1 700.0 299.2 699.3 299.2 698.1 291.1 697.8 289.7 696.7 288.7 695.3 288.3 693.9 288.7 692.9 289.7 692.5 291.1 691.3 299.2 686.4 299.2 684.9 293.7 683.8 292.7 682.4 292.3 681.0 292.7 680.0 293.7 678.4 299.2 675.4 299.3 674.2 281.0 673.8 279.6 672.8 278.6 671.4 278.2 670.0 278.6 669.0 279.6 668.6 281.0 667.4 300.2 666.1 300.3 664.5 294.6 663.5 293.6 662.1 293.2 660.7 293.6 659.7 294.6 659.3 296.0 658.1 297.3 654.1 295.9 653.5 296.0 651.9 290.6 650.9 289.6 649.5 289.2 648.1 289.6 647.0 290.6 645.5 296.9 642.6 297.2 641.0 290.6 640.0 289.6 638.6 289.2 637.2 289.6 636.1 290.6 634.6 297.2 633.5 297.2 630.8 297.9 629.8 297.9 628.6 277.0 628.2 275.6 627.2 274.6 625.8 274.2 624.4 274.6 623.4 275.6 623.0 277.0 621.8 297.9 620.9 297.9 618.2 300.5 616.9 300.3 615.7 288.0 615.3 286.6 614.3 285.6 612.9 285.2 611.5 285.6 610.5 286.6 610.1 288.0 608.9 299.1 605.6 298.5 602.2 291.2 599.1 294.9 598.9 294.8 597.7 288.0 597.4 286.6 596.3 285.6 594.9 285.2 593.5 285.6 592.5 286.6 592.1 288.0 590.9 304.3 589.1 306.4 587.8 303.1 587.4 301.7 586.4 300.7 585.0 300.3 583.6 300.7 582.5 301.7 581.0 308.3 580.3 308.5 578.3 307.8 576.7 301.7 575.7 300.7 574.3 300.3 572.9 300.7 571.9 301.7 571.5 303.1 571.2 305.6 570.9 305.6 570.1 304.6 569.0 304.3 567.6 304.6 566.6 305.7 566.2 307.1 565.0 307.9 563.4 307.9 563.1 307.6 561.7 307.2 560.3 307.6 560.0 307.9 558.1 307.9 558.0 307.3 557.0 306.2 555.7 305.9 554.4 306.2 553.4 307.3 553.1 308.5 551.3 308.5 550.1 299.0 549.7 297.6 548.7 296.5 547.3 296.2 545.9 296.5 544.9 297.6 544.5 299.0 544.3 300.3 542.8 299.9 541.4 300.3 540.4 301.3 540.0 302.7 539.5 307.2 538.7 307.3 538.2 305.3 537.1 304.2 535.7 303.9 534.3 304.2 533.3 305.3 531.7 311.5 530.4 312.0 528.9 306.6 527.8 305.6 526.4 305.2 525.0 305.6 524.0 306.6 523.6 308.0 522.6 315.3 521.8 315.3 519.4 303.9 517.8 303.2 516.5 298.6 515.5 297.6 514.1 297.2 512.7 297.6 511.6 298.6 511.3 300.0 510.1 311.6 509.8 311.8 506.5 313.8 504.5 322.8 501.9 328.2 501.5 328.2 497.2 312.5 493.2 297.2 492.5 297.5 491.3 295.0 490.9 293.6 489.9 292.5 488.5 292.2 487.1 292.5 486.1 293.6 484.5 300.5 482.5 301.2 477.2 304.5 477.0 300.9 476.6 299.5 475.6 298.5 474.2 298.1 472.8 298.5 471.2 300.1 467.9 293.9 466.9 295.0 466.8 295.0 465.3 288.6 464.3 287.6 462.9 287.2 461.5 287.6 460.4 288.6 460.1 290.0 459.9 303.2 459.2 305.1 457.5 304.5 456.1 304.9 455.1 305.9 454.7 307.3 454.6 316.5 451.3 317.2 450.6 316.8 449.4 307.1 449.1 305.7 448.0 304.6 446.6 304.3 445.2 304.6 444.2 305.7 443.8 307.1 443.5 309.0 442.6 309.0 441.8 302.0 441.5 300.6 440.4 299.6 439.0 299.2 437.6 299.6 436.6 300.6 436.3 302.0 435.6 301.9 434.4 296.6 433.4 295.6 432.0 295.2 430.6 295.6 429.6 296.6 428.0 303.3 426.2 303.2 425.3 302.2 424.0 301.9 422.6 302.2 421.6 303.3 421.2 304.7 420.0 326.5 419.5 326.6 418.2 324.5 413.4 307.2 412.1 308.4 410.5 301.7 409.5 300.7 408.1 300.3 406.7 300.7 405.6 301.7 405.3 303.1 404.1 316.0 401.4 318.5 398.1 319.4 381.4 291.2 381.1 292.0 380.6 291.9 379.2 285.6 378.2 284.6 376.8 284.2 375.4 284.6 374.4 285.6 374.0 287.0 372.8 312.1 370.7 317.2 368.3 319.0 367.0 291.0 366.6 289.6 365.6 288.5 364.2 288.2 362.8 288.5 361.7 289.6 361.4 291.0 360.2 314.4 359.5 314.1 358.4 315.4 358.3 315.4 357.9 313.9 356.9 312.9 355.5 312.5 354.1 312.9 353.1 313.9 352.7 315.3 352.1 319.4 351.2 319.4 350.3 308.0 350.0 306.6 348.9 305.6 347.5 305.2 346.1 305.6 345.1 306.6 344.7 308.0 344.2 308.5 342.5 308.5 341.3 295.1 340.9 293.7 339.9 292.7 338.5 292.3 337.1 292.7 336.1 293.7 335.7 295.1 334.5 308.5 333.6 308.5 333.0 309.0 332.2 308.2 330.9 307.9 329.5 308.2 328.5 309.3 326.9 314.2 324.9 315.8 321.6 313.2 316.9 310.5 315.0 309.7 313.8 307.1 313.4 305.7 312.4 304.6 311.0 304.3 309.6 304.6 308.5 305.7 308.2 307.0 307.0 306.5 306.3 306.6 306.1 305.7 305.0 304.6 303.6 304.3 302.2 304.6 301.2 305.7 300.8 307.1 299.6 307.7 298.7 307.9 297.5 297.0 297.2 295.6 296.1 294.5 294.7 294.2 293.3 294.5 292.3 295.6 291.9 297.0 290.7 320.8 289.7 322.5 287.7 318.5 284.4 317.8 283.7 317.1 282.5 302.0 282.1 300.6 281.1 299.6 279.7 299.2 278.3 299.6 277.3 300.6 276.9 302.0 276.4 305.4 275.7 305.4 275.2 303.7 274.2 302.6 272.8 302.3 271.4 302.6 270.4 303.7 268.8 309.0 266.4 309.2 263.1 313.8 261.3 320.0 258.6 323.7 258.2 323.6 257.0 307.1 256.6 305.7 255.6 304.6 254.2 304.3 252.8 304.6 251.7 305.7 251.1 308.1 250.4 308.1 249.1 302.6 248.1 301.6 246.7 301.2 245.3 301.6 244.3 302.6 243.9 304.0 242.7 320.3 241.8 320.1 240.9 319.3 239.5 318.9 238.1 319.3 237.7 319.7 234.8 319.4 233.6 292.0 233.2 290.6 232.2 289.6 230.8 289.2 229.4 289.6 228.3 290.6 228.0 292.0 226.8 319.2 225.2 319.2 223.6 320.3 222.4 304.9 222.0 303.5 221.0 302.5 219.6 302.1 218.2 302.5 217.2 303.5 216.8 304.9 215.6 325.8 213.2 327.4 212.5 326.7 211.3 309.3 211.0 307.9 209.9 306.9 208.5 306.5 207.1 306.9 206.1 307.9 205.7 309.3 204.6 317.6 204.4 317.6 201.2 314.1 199.6 315.2 198.4 312.0 198.1 310.6 197.0 309.6 195.6 309.2 194.2 309.6 193.2 310.6 192.8 312.0 191.9 318.7 190.9 318.7 189.8 300.0 189.4 298.6 188.4 297.6 187.0 297.2 185.6 297.6 184.6 298.6 184.2 300.0 183.0 312.8 182.9 312.9 181.3 311.4 180.2 312.5 179.7 310.6 178.7 309.6 177.3 309.2 175.9 309.6 174.9 310.6 174.5 312.0 173.3 320.6 172.0 322.1 170.7 322.1 169.5 301.3 169.1 299.9 168.1 298.9 166.7 298.5 165.3 298.9 164.2 299.9 163.9 301.3 162.7 322.1 162.7 325.1 165.3 325.1Z"/>
<polyline stroke="#000" stroke-width="5.6" points="1094.6,295.0 1096.2,400.0 1103.3,995.4 1113.8,995.4 1119.0,400.0 1124.6,284.0"/>
<polyline stroke="#000" stroke-width="5.6" points="1292.0,275.0 1294.0,400.0 1300.7,995.0 1306.0,995.0 1310.1,400.0 1314.5,312.0"/>
<polyline stroke="#000" stroke-width="5.6" points="1380.0,298.0 1383.4,400.0 1390.5,992.8 1403.1,992.8 1408.9,400.0 1411.5,309.0"/>
<polyline stroke="#000" stroke-width="5.6" points="1478.2,278.0 1479.1,400.0 1485.5,996.9 1520.3,996.9 1525.3,400.0 1530.0,298.0"/>
<polyline stroke="#000" stroke-width="5.6" points="1586.8,290.0 1589.4,400.0 1595.5,995.7 1649.9,995.7 1654.0,400.0 1657.0,308.0"/>
<polyline stroke="#000" stroke-width="5.6" points="1765.5,300.0 1767.4,400.0 1773.4,994.9 1829.4,994.9 1834.2,400.0 1839.5,297.0"/>
<polyline stroke="#000" stroke-width="5.6" points="1908.3,300.0 1909.2,400.0 1915.5,997.2 1929.9,997.2 1934.2,400.0 1941.5,286.0"/>
<polyline stroke="#000" stroke-width="5.6" points="390.2,335.0 392.0,111.9 393.8,335.0"/>
<polyline stroke="#000" stroke-width="5.6" points="1281.0,300.0 1282.6,227.5 1284.0,300.0"/>
<polyline stroke="#000" stroke-width="5.8" points="161.0,883.9 161.6,530.0 162.3,313.0"/>
</g>
<g class="tk">
<text transform="translate(159.48,1049.8) scale(1,1.077)" text-anchor="middle">0</text>
<text transform="translate(343.19,1049.8) scale(1,1.077)" text-anchor="middle">100</text>
<text transform="translate(526.14,1049.8) scale(1,1.077)" text-anchor="middle">200</text>
<text transform="translate(709.08,1049.8) scale(1,1.077)" text-anchor="middle">300</text>
<text transform="translate(892.02,1049.8) scale(1,1.077)" text-anchor="middle">400</text>
<text transform="translate(1074.97,1049.8) scale(1,1.077)" text-anchor="middle">500</text>
<text transform="translate(1257.92,1049.8) scale(1,1.077)" text-anchor="middle">600</text>
<text transform="translate(1440.86,1049.8) scale(1,1.077)" text-anchor="middle">700</text>
<text transform="translate(1623.81,1049.8) scale(1,1.077)" text-anchor="middle">800</text>
<text transform="translate(1806.75,1049.8) scale(1,1.077)" text-anchor="middle">900</text>
<text transform="translate(1990.06,1049.8) scale(1,1.077)" text-anchor="middle">1000</text>
<text transform="translate(148.85,1024.45) scale(1,1.077)" text-anchor="end">0</text>
<text transform="translate(150.85,936.97) scale(1,1.077)" text-anchor="end">100</text>
<text transform="translate(150.85,849.50) scale(1,1.077)" text-anchor="end">200</text>
<text transform="translate(150.85,762.02) scale(1,1.077)" text-anchor="end">300</text>
<text transform="translate(150.85,674.54) scale(1,1.077)" text-anchor="end">400</text>
<text transform="translate(150.85,587.06) scale(1,1.077)" text-anchor="end">500</text>
<text transform="translate(150.85,499.59) scale(1,1.077)" text-anchor="end">600</text>
<text transform="translate(150.85,412.11) scale(1,1.077)" text-anchor="end">700</text>
<text transform="translate(150.85,324.63) scale(1,1.077)" text-anchor="end">800</text>
<text transform="translate(150.85,237.15) scale(1,1.077)" text-anchor="end">900</text>
<text transform="translate(151.80,149.68) scale(1,1.077)" text-anchor="end">1000</text>
<text transform="translate(151.80,62.20) scale(1,1.077)" text-anchor="end">1100</text>
</g>
<g fill="#262626" stroke="#262626">
<text class="lx" x="997.47" y="1097.80" textLength="93.79" lengthAdjust="spacingAndGlyphs" style="font-size:50px">time</text>
<text class="lx rm" x="1095.28" y="1098.90" textLength="14.09" lengthAdjust="spacingAndGlyphs" style="font-size:53.8px">(</text>
<text class="lx" x="1113.45" y="1097.80" textLength="17.19" lengthAdjust="spacingAndGlyphs" style="font-size:50px">s</text>
<text class="lx rm" x="1133.32" y="1098.90" textLength="14.81" lengthAdjust="spacingAndGlyphs" style="font-size:53.8px">)</text>
</g>
<g fill="#262626" stroke="#262626" transform="translate(77.9,0) rotate(-90)">
<text class="lx" x="-624.64" y="0.00" textLength="18.04" lengthAdjust="spacingAndGlyphs" style="font-size:50px">x</text>
<text class="lx rm" x="-601.06" y="6.20" textLength="17.73" lengthAdjust="spacingAndGlyphs" style="font-size:35px">2</text>
<text class="lx rm" x="-563.66" y="-0.50" textLength="14.45" lengthAdjust="spacingAndGlyphs" style="font-size:53.8px">(</text>
<text class="lx" x="-547.77" y="0.00" textLength="89.56" lengthAdjust="spacingAndGlyphs" style="font-size:50px">rpm</text>
<text class="lx rm" x="-455.96" y="-0.50" textLength="14.45" lengthAdjust="spacingAndGlyphs" style="font-size:53.8px">)</text>
</g>
<g>
<rect x="1503" y="75" width="464" height="189" fill="#fff"/>
<g fill="#262626">
<rect x="1503" y="75" width="2.9" height="189"/>
<rect x="1503" y="261.3" width="464" height="2.7"/>
<rect x="1503" y="75" width="464" height="2.1"/>
<rect x="1965" y="75" width="2.0" height="189"/>
</g>
<rect x="1511" y="106" width="70" height="5" fill="#0072BD"/>
<rect x="1511" y="166" width="70" height="4.2" fill="#FF0000"/>
<rect x="1511" y="226" width="70" height="5.3" fill="#000"/>
<g fill="#000" stroke="#000">
<text class="lx" x="1586.41" y="120.90" textLength="199.80" lengthAdjust="spacingAndGlyphs" style="font-size:50px">measured</text>
<text class="lx" x="1802.95" y="120.90" textLength="97.00" lengthAdjust="spacingAndGlyphs" style="font-size:50px">state</text>
<text class="lx" x="1917.03" y="120.90" textLength="21.81" lengthAdjust="spacingAndGlyphs" style="font-size:50px">x</text>
<text class="lx rm" x="1941.67" y="127.70" textLength="15.40" lengthAdjust="spacingAndGlyphs" style="font-size:35px">2</text>
<text class="lx" x="1585.68" y="180.70" textLength="112.44" lengthAdjust="spacingAndGlyphs" style="font-size:50px">lower</text>
<text class="lx" x="1715.11" y="180.70" textLength="117.20" lengthAdjust="spacingAndGlyphs" style="font-size:50px">bound</text>
<text class="lx" x="1849.26" y="180.70" textLength="22.48" lengthAdjust="spacingAndGlyphs" style="font-size:50px">x</text>
<text class="lx rm" x="1854.15" y="182.20" textLength="13.03" lengthAdjust="spacingAndGlyphs" style="font-size:50px">ˆ</text>
<rect x="1846" y="184.8" width="27.2" height="2.9" stroke="none"/>
<text class="lx rm" x="1873.22" y="190.70" textLength="16.22" lengthAdjust="spacingAndGlyphs" style="font-size:35px">2</text>
<text class="lx" x="1585.49" y="242.50" textLength="114.43" lengthAdjust="spacingAndGlyphs" style="font-size:50px">upper</text>
<text class="lx" x="1716.31" y="242.50" textLength="117.70" lengthAdjust="spacingAndGlyphs" style="font-size:50px">bound</text>
<text class="lx" x="1850.46" y="242.50" textLength="22.39" lengthAdjust="spacingAndGlyphs" style="font-size:50px">x</text>
<text class="lx rm" x="1856.45" y="244.00" textLength="12.44" lengthAdjust="spacingAndGlyphs" style="font-size:50px">ˆ</text>
<rect x="1848.2" y="200.1" width="26.7" height="2.9" stroke="none"/>
<text class="lx rm" x="1875.03" y="249.00" textLength="16.10" lengthAdjust="spacingAndGlyphs" style="font-size:35px">2</text>
</g></g>
</svg></body></html>
